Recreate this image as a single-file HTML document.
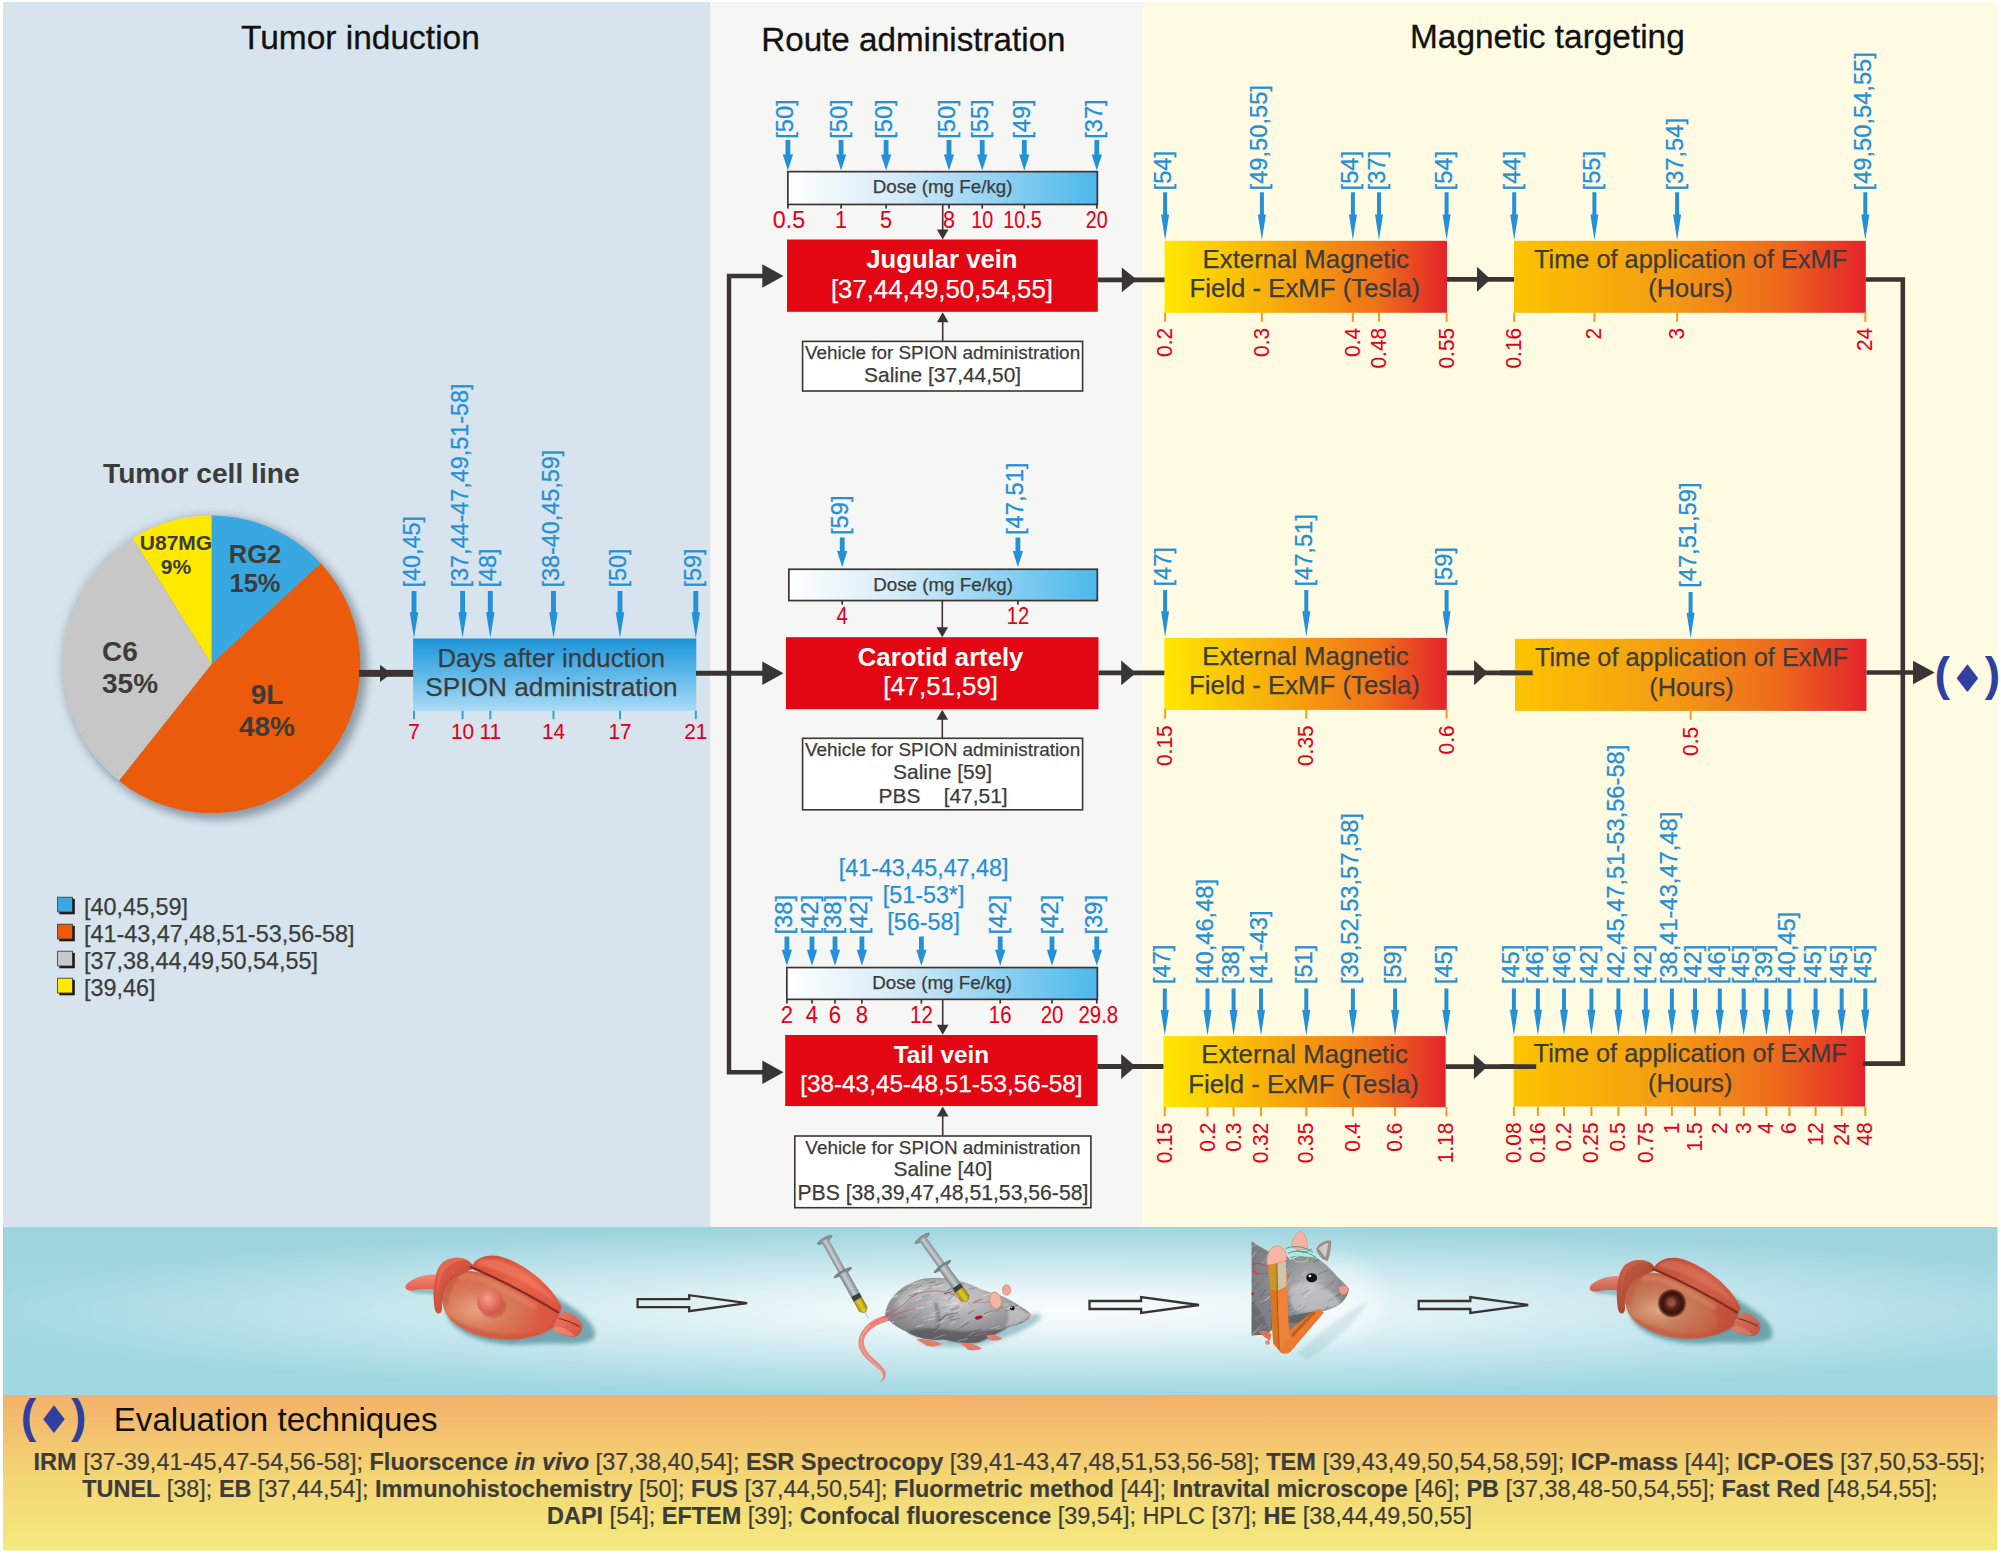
<!DOCTYPE html>
<html lang="en"><head><meta charset="utf-8"><title>SPION magnetic targeting overview</title>
<style>html,body{margin:0;padding:0;background:#fff;}body{width:2001px;height:1554px;overflow:hidden;}svg{display:block;font-family:"Liberation Sans",Arial,Helvetica,sans-serif;}</style>
</head><body>
<svg width="2001" height="1554" viewBox="0 0 2001 1554" role="img" aria-label="SPION magnetic targeting study overview">
<defs>
<linearGradient id="gDays" x1="0" y1="0" x2="0" y2="1"><stop offset="0" stop-color="#1f93d6"/><stop offset="0.25" stop-color="#3ba7e2"/><stop offset="1" stop-color="#a9daf6"/></linearGradient>
<linearGradient id="gDose" x1="0" y1="0" x2="1" y2="0"><stop offset="0" stop-color="#ffffff"/><stop offset="0.35" stop-color="#d6ebf8"/><stop offset="1" stop-color="#4bb8ec"/></linearGradient>
<linearGradient id="gEx" x1="0" y1="0" x2="1" y2="0"><stop offset="0" stop-color="#ffe800"/><stop offset="0.45" stop-color="#f6a30d"/><stop offset="0.75" stop-color="#ee7219"/><stop offset="1" stop-color="#e4232b"/></linearGradient>
<linearGradient id="gTime" x1="0" y1="0" x2="1" y2="0"><stop offset="0" stop-color="#fcc400"/><stop offset="0.45" stop-color="#f49a14"/><stop offset="0.75" stop-color="#ed6a1d"/><stop offset="1" stop-color="#e4232b"/></linearGradient>
<linearGradient id="gBandV" x1="0" y1="0" x2="0" y2="1"><stop offset="0" stop-color="#9dd4de"/><stop offset="0.5" stop-color="#a1d7e1"/><stop offset="1" stop-color="#9fd7e2"/></linearGradient>
<radialGradient id="gBandC" cx="0.5" cy="0.5" r="0.5"><stop offset="0" stop-color="#ffffff" stop-opacity="0.93"/><stop offset="0.25" stop-color="#ffffff" stop-opacity="0.76"/><stop offset="0.5" stop-color="#ffffff" stop-opacity="0.5"/><stop offset="0.75" stop-color="#ffffff" stop-opacity="0.24"/><stop offset="1" stop-color="#ffffff" stop-opacity="0"/></radialGradient>
<linearGradient id="gEval" x1="0" y1="0" x2="0" y2="1"><stop offset="0" stop-color="#f4b16a"/><stop offset="0.5" stop-color="#f3d474"/><stop offset="1" stop-color="#f3ea7e"/></linearGradient>
<clipPath id="bandclip"><rect x="3" y="1227" width="1994.5" height="168.5"/></clipPath>
<filter id="blur6" x="-20%" y="-20%" width="140%" height="140%"><feGaussianBlur stdDeviation="6"/></filter>
<filter id="blur45" x="-20%" y="-20%" width="140%" height="140%"><feGaussianBlur stdDeviation="4.5"/></filter>
<filter id="blur3" x="-20%" y="-20%" width="140%" height="140%"><feGaussianBlur stdDeviation="3"/></filter>
</defs>
<rect x="0" y="0" width="2001" height="1554" fill="#ffffff"/>
<rect x="3" y="2" width="707.5" height="1226" fill="#d7e4ed"/>
<rect x="710.5" y="2" width="433" height="1226" fill="#f6f6f4"/>
<rect x="1143.5" y="2" width="854" height="1226" fill="#fffae2"/>
<rect x="3" y="1227" width="1994.5" height="168.5" fill="url(#gBandV)"/>
<ellipse cx="1060" cy="1311" rx="1100" ry="86" fill="url(#gBandC)" clip-path="url(#bandclip)"/>
<rect x="3" y="1395" width="1994.5" height="155.5" fill="url(#gEval)"/>
<text x="360.4" y="49.4" font-size="33.5" fill="#111111" text-anchor="middle" stroke="#111" stroke-width="0.3">Tumor induction</text>
<text x="913.4" y="51.3" font-size="33.2" fill="#111111" text-anchor="middle" stroke="#111" stroke-width="0.3">Route administration</text>
<text x="1547.4" y="47.7" font-size="33.4" fill="#111111" text-anchor="middle" stroke="#111" stroke-width="0.3">Magnetic targeting</text>
<circle cx="212.5" cy="665.3" r="151.8" fill="#6a7a8a" opacity="0.35" filter="url(#blur45)"/>
<circle cx="218.0" cy="670.8" r="149.3" fill="#5a6a7a" opacity="0.45" filter="url(#blur45)"/>
<path d="M211.5,664.3L211.50,515.50A148.8,148.8 0 0 1 320.68,563.20Z" fill="#3aa8e0"/>
<path d="M211.5,664.3L320.68,563.20A148.8,148.8 0 0 1 118.87,780.75Z" fill="#ea5b0b"/>
<path d="M211.5,664.3L118.87,780.75A148.8,148.8 0 0 1 132.87,537.97Z" fill="#c7c7c7"/>
<path d="M211.5,664.3L132.87,537.97A148.8,148.8 0 0 1 211.50,515.50Z" fill="#ffe900"/>
<text x="201.3" y="482.5" font-size="28.15" fill="#3c3c3b" text-anchor="middle" font-weight="bold">Tumor cell line</text>
<text x="255.0" y="563.0" font-size="25.5" fill="#3c3c3b" text-anchor="middle" font-weight="bold">RG2</text>
<text x="255.0" y="591.5" font-size="25.5" fill="#3c3c3b" text-anchor="middle" font-weight="bold">15%</text>
<text x="267.0" y="703.8" font-size="28" fill="#3c3c3b" text-anchor="middle" font-weight="bold">9L</text>
<text x="267.0" y="736.0" font-size="28" fill="#3c3c3b" text-anchor="middle" font-weight="bold">48%</text>
<text x="102.0" y="660.5" font-size="28" fill="#3c3c3b" text-anchor="start" font-weight="bold">C6</text>
<text x="102.0" y="693.0" font-size="28" fill="#3c3c3b" text-anchor="start" font-weight="bold">35%</text>
<text x="176.0" y="550.0" font-size="21" fill="#3c3c3b" text-anchor="middle" font-weight="bold">U87MG</text>
<text x="176.0" y="574.0" font-size="21" fill="#3c3c3b" text-anchor="middle" font-weight="bold">9%</text>
<rect x="59.3" y="898.8" width="15.5" height="15.5" fill="#1a1a1a"/>
<rect x="57.6" y="897.2" width="14.8" height="14.8" fill="#3aa8e0" stroke="#333" stroke-width="0.8"/>
<text x="84.0" y="915.0" font-size="23.4" fill="#3c3c3b" stroke="#3c3c3b" stroke-width="0.25" text-anchor="start">[40,45,59]</text>
<rect x="59.3" y="925.8" width="15.5" height="15.5" fill="#1a1a1a"/>
<rect x="57.6" y="924.2" width="14.8" height="14.8" fill="#ea5b0b" stroke="#333" stroke-width="0.8"/>
<text x="84.0" y="942.0" font-size="23.4" fill="#3c3c3b" stroke="#3c3c3b" stroke-width="0.25" text-anchor="start">[41-43,47,48,51-53,56-58]</text>
<rect x="59.3" y="952.8" width="15.5" height="15.5" fill="#1a1a1a"/>
<rect x="57.6" y="951.2" width="14.8" height="14.8" fill="#c7c7c7" stroke="#333" stroke-width="0.8"/>
<text x="84.0" y="969.0" font-size="23.4" fill="#3c3c3b" stroke="#3c3c3b" stroke-width="0.25" text-anchor="start">[37,38,44,49,50,54,55]</text>
<rect x="59.3" y="979.8" width="15.5" height="15.5" fill="#1a1a1a"/>
<rect x="57.6" y="978.2" width="14.8" height="14.8" fill="#ffe900" stroke="#333" stroke-width="0.8"/>
<text x="84.0" y="996.0" font-size="23.4" fill="#3c3c3b" stroke="#3c3c3b" stroke-width="0.25" text-anchor="start">[39,46]</text>
<rect x="359" y="669.9" width="55" height="6.9" fill="#3a3533"/>
<path d="M380,664.8L391.5,673.4L380,682Z" fill="#3a3533"/>
<rect x="413.1" y="638.5" width="283.2" height="72.2" fill="url(#gDays)"/>
<text x="551.3" y="666.6" font-size="25.75" fill="#3c3c3b" stroke="#3c3c3b" stroke-width="0.25" text-anchor="middle">Days after induction</text>
<text x="551.5" y="695.8" font-size="26.25" fill="#3c3c3b" stroke="#3c3c3b" stroke-width="0.25" text-anchor="middle">SPION administration</text>
<path d="M411.55,591.00H416.45V612.20L418.25,612.20L414.00,638.00L409.75,612.20L411.55,612.20Z" fill="#2490d6"/>
<text transform="translate(419.5,587.6) rotate(-90) scale(1.017,1)" font-size="23.0" fill="#2490d6" stroke="#2490d6" stroke-width="0.3" text-anchor="start">[40,45]</text>
<rect x="413.0" y="710.7" width="2" height="8.5" fill="#2ea3dc"/>
<text transform="translate(414.0,739.0) scale(0.93,1)" font-size="22.4" fill="#e2001a" stroke="#e2001a" stroke-width="0.12" text-anchor="middle">7</text>
<path d="M460.15,591.00H465.05V612.20L466.85,612.20L462.60,638.00L458.35,612.20L460.15,612.20Z" fill="#2490d6"/>
<text transform="translate(468.1,587.6) rotate(-90) scale(1.017,1)" font-size="23.0" fill="#2490d6" stroke="#2490d6" stroke-width="0.3" text-anchor="start">[37,44-47,49,51-58]</text>
<rect x="461.6" y="710.7" width="2" height="8.5" fill="#2ea3dc"/>
<text transform="translate(462.6,739.0) scale(0.93,1)" font-size="22.4" fill="#e2001a" stroke="#e2001a" stroke-width="0.12" text-anchor="middle">10</text>
<path d="M487.85,591.00H492.75V612.20L494.55,612.20L490.30,638.00L486.05,612.20L487.85,612.20Z" fill="#2490d6"/>
<text transform="translate(495.8,587.6) rotate(-90) scale(1.017,1)" font-size="23.0" fill="#2490d6" stroke="#2490d6" stroke-width="0.3" text-anchor="start">[48]</text>
<rect x="489.3" y="710.7" width="2" height="8.5" fill="#2ea3dc"/>
<text transform="translate(490.3,739.0) scale(0.93,1)" font-size="22.4" fill="#e2001a" stroke="#e2001a" stroke-width="0.12" text-anchor="middle">11</text>
<path d="M551.05,591.00H555.95V612.20L557.75,612.20L553.50,638.00L549.25,612.20L551.05,612.20Z" fill="#2490d6"/>
<text transform="translate(559.0,587.6) rotate(-90) scale(1.017,1)" font-size="23.0" fill="#2490d6" stroke="#2490d6" stroke-width="0.3" text-anchor="start">[38-40,45,59]</text>
<rect x="552.5" y="710.7" width="2" height="8.5" fill="#2ea3dc"/>
<text transform="translate(553.5,739.0) scale(0.93,1)" font-size="22.4" fill="#e2001a" stroke="#e2001a" stroke-width="0.12" text-anchor="middle">14</text>
<path d="M617.55,591.00H622.45V612.20L624.25,612.20L620.00,638.00L615.75,612.20L617.55,612.20Z" fill="#2490d6"/>
<text transform="translate(625.5,587.6) rotate(-90) scale(1.017,1)" font-size="23.0" fill="#2490d6" stroke="#2490d6" stroke-width="0.3" text-anchor="start">[50]</text>
<rect x="619.0" y="710.7" width="2" height="8.5" fill="#2ea3dc"/>
<text transform="translate(620.0,739.0) scale(0.93,1)" font-size="22.4" fill="#e2001a" stroke="#e2001a" stroke-width="0.12" text-anchor="middle">17</text>
<path d="M693.35,591.00H698.25V612.20L700.05,612.20L695.80,638.00L691.55,612.20L693.35,612.20Z" fill="#2490d6"/>
<text transform="translate(701.3,587.6) rotate(-90) scale(1.017,1)" font-size="23.0" fill="#2490d6" stroke="#2490d6" stroke-width="0.3" text-anchor="start">[59]</text>
<rect x="694.8" y="710.7" width="2" height="8.5" fill="#2ea3dc"/>
<text transform="translate(695.8,739.0) scale(0.93,1)" font-size="22.4" fill="#e2001a" stroke="#e2001a" stroke-width="0.12" text-anchor="middle">21</text>
<path d="M696,673.3H765" stroke="#3a3533" stroke-width="5" fill="none"/>
<path d="M765,276H729V1072.3H765" stroke="#3a3533" stroke-width="4.4" fill="none"/>
<path d="M762.3,264.2L783.5,276L762.3,287.8Z" fill="#3a3533"/>
<path d="M762.3,661.5L783.5,673.3L762.3,685.0999999999999Z" fill="#3a3533"/>
<path d="M762.3,1060.5L783.5,1072.3L762.3,1084.1Z" fill="#3a3533"/>
<rect x="787.85" y="171.65" width="309.50" height="32.80" fill="url(#gDose)" stroke="#3a3533" stroke-width="1.7"/>
<text x="942.6" y="193.3" font-size="18.8" fill="#3c3c3b" stroke="#3c3c3b" stroke-width="0.25" text-anchor="middle">Dose (mg Fe/kg)</text>
<path d="M785.50,140.00H790.30V154.50L793.05,154.50L787.90,170.50L782.75,154.50L785.50,154.50Z" fill="#2490d6"/>
<text transform="translate(793.4,138.8) rotate(-90) scale(1.03,1)" font-size="23.0" fill="#2490d6" stroke="#2490d6" stroke-width="0.3" text-anchor="start">[50]</text>
<rect x="787.05" y="205" width="1.7" height="3.6" fill="#3a3533"/>
<text transform="translate(788.9,227.5) scale(0.97,1)" font-size="24" fill="#e2001a" stroke="#e2001a" stroke-width="0.12" text-anchor="middle">0.5</text>
<path d="M838.70,140.00H843.50V154.50L846.25,154.50L841.10,170.50L835.95,154.50L838.70,154.50Z" fill="#2490d6"/>
<text transform="translate(846.6,138.8) rotate(-90) scale(1.03,1)" font-size="23.0" fill="#2490d6" stroke="#2490d6" stroke-width="0.3" text-anchor="start">[50]</text>
<rect x="840.25" y="205" width="1.7" height="3.6" fill="#3a3533"/>
<text transform="translate(841.1,227.5) scale(0.9,1)" font-size="24" fill="#e2001a" stroke="#e2001a" stroke-width="0.12" text-anchor="middle">1</text>
<path d="M883.70,140.00H888.50V154.50L891.25,154.50L886.10,170.50L880.95,154.50L883.70,154.50Z" fill="#2490d6"/>
<text transform="translate(891.6,138.8) rotate(-90) scale(1.03,1)" font-size="23.0" fill="#2490d6" stroke="#2490d6" stroke-width="0.3" text-anchor="start">[50]</text>
<rect x="885.25" y="205" width="1.7" height="3.6" fill="#3a3533"/>
<text transform="translate(886.1,227.5) scale(0.9,1)" font-size="24" fill="#e2001a" stroke="#e2001a" stroke-width="0.12" text-anchor="middle">5</text>
<path d="M946.60,140.00H951.40V154.50L954.15,154.50L949.00,170.50L943.85,154.50L946.60,154.50Z" fill="#2490d6"/>
<text transform="translate(954.5,138.8) rotate(-90) scale(1.03,1)" font-size="23.0" fill="#2490d6" stroke="#2490d6" stroke-width="0.3" text-anchor="start">[50]</text>
<rect x="948.15" y="205" width="1.7" height="3.6" fill="#3a3533"/>
<text transform="translate(949.0,227.5) scale(0.9,1)" font-size="24" fill="#e2001a" stroke="#e2001a" stroke-width="0.12" text-anchor="middle">8</text>
<path d="M979.80,140.00H984.60V154.50L987.35,154.50L982.20,170.50L977.05,154.50L979.80,154.50Z" fill="#2490d6"/>
<text transform="translate(987.7,138.8) rotate(-90) scale(1.03,1)" font-size="23.0" fill="#2490d6" stroke="#2490d6" stroke-width="0.3" text-anchor="start">[55]</text>
<rect x="981.35" y="205" width="1.7" height="3.6" fill="#3a3533"/>
<text transform="translate(982.2,227.5) scale(0.82,1)" font-size="24" fill="#e2001a" stroke="#e2001a" stroke-width="0.12" text-anchor="middle">10</text>
<path d="M1021.90,140.00H1026.70V154.50L1029.45,154.50L1024.30,170.50L1019.15,154.50L1021.90,154.50Z" fill="#2490d6"/>
<text transform="translate(1029.8,138.8) rotate(-90) scale(1.03,1)" font-size="23.0" fill="#2490d6" stroke="#2490d6" stroke-width="0.3" text-anchor="start">[49]</text>
<rect x="1023.45" y="205" width="1.7" height="3.6" fill="#3a3533"/>
<text transform="translate(1022.5,227.5) scale(0.82,1)" font-size="24" fill="#e2001a" stroke="#e2001a" stroke-width="0.12" text-anchor="middle">10.5</text>
<path d="M1094.40,140.00H1099.20V154.50L1101.95,154.50L1096.80,170.50L1091.65,154.50L1094.40,154.50Z" fill="#2490d6"/>
<text transform="translate(1102.3,138.8) rotate(-90) scale(1.03,1)" font-size="23.0" fill="#2490d6" stroke="#2490d6" stroke-width="0.3" text-anchor="start">[37]</text>
<rect x="1095.95" y="205" width="1.7" height="3.6" fill="#3a3533"/>
<text transform="translate(1096.8,227.5) scale(0.82,1)" font-size="24" fill="#e2001a" stroke="#e2001a" stroke-width="0.12" text-anchor="middle">20</text>
<path d="M942.7,205V231.6" stroke="#3a3533" stroke-width="1.6" fill="none"/>
<path d="M936.9000000000001,229.6L942.7,239.6L948.5,229.6Z" fill="#3a3533"/>
<rect x="787" y="239.5" width="310.8" height="72.3" fill="#e30613"/>
<text x="941.9" y="268.4" font-size="25.7" fill="#ffffff" text-anchor="middle" font-weight="bold">Jugular vein</text>
<text x="941.9" y="297.5" font-size="25.75" fill="#ffffff" stroke="#ffffff" stroke-width="0.25" text-anchor="middle">[37,44,49,50,54,55]</text>
<path d="M942.7,341V320.3" stroke="#3a3533" stroke-width="1.6" fill="none"/>
<path d="M936.9000000000001,322.3L942.7,312.3L948.5,322.3Z" fill="#3a3533"/>
<rect x="802.5999999999999" y="341.40000000000003" width="280.0" height="49.6" fill="#ffffff" stroke="#3a3533" stroke-width="1.6"/>
<text x="942.6" y="358.9" font-size="18.9" fill="#3c3c3b" stroke="#3c3c3b" stroke-width="0.25" text-anchor="middle" xml:space="preserve">Vehicle for SPION administration</text>
<text x="942.6" y="382.0" font-size="20.95" fill="#3c3c3b" stroke="#3c3c3b" stroke-width="0.25" text-anchor="middle" xml:space="preserve">Saline [37,44,50]</text>
<rect x="788.85" y="569.25" width="308.50" height="31.30" fill="url(#gDose)" stroke="#3a3533" stroke-width="1.7"/>
<text x="943.1" y="590.9" font-size="18.8" fill="#3c3c3b" stroke="#3c3c3b" stroke-width="0.25" text-anchor="middle">Dose (mg Fe/kg)</text>
<path d="M839.80,537.50H844.60V551.00L847.35,551.00L842.20,567.00L837.05,551.00L839.80,551.00Z" fill="#2490d6"/>
<text transform="translate(847.7,535.0) rotate(-90) scale(1.03,1)" font-size="23.0" fill="#2490d6" stroke="#2490d6" stroke-width="0.3" text-anchor="start">[59]</text>
<rect x="841.35" y="601" width="1.7" height="3.6" fill="#3a3533"/>
<text transform="translate(842.2,623.6) scale(0.84,1)" font-size="24" fill="#e2001a" stroke="#e2001a" stroke-width="0.12" text-anchor="middle">4</text>
<path d="M1015.50,537.50H1020.30V551.00L1023.05,551.00L1017.90,567.00L1012.75,551.00L1015.50,551.00Z" fill="#2490d6"/>
<text transform="translate(1023.4,535.0) rotate(-90) scale(1.03,1)" font-size="23.0" fill="#2490d6" stroke="#2490d6" stroke-width="0.3" text-anchor="start">[47,51]</text>
<rect x="1017.05" y="601" width="1.7" height="3.6" fill="#3a3533"/>
<text transform="translate(1017.9,623.6) scale(0.84,1)" font-size="24" fill="#e2001a" stroke="#e2001a" stroke-width="0.12" text-anchor="middle">12</text>
<path d="M942.3,601V629.2" stroke="#3a3533" stroke-width="1.6" fill="none"/>
<path d="M936.5,627.2L942.3,637.2L948.0999999999999,627.2Z" fill="#3a3533"/>
<rect x="786" y="637.2" width="312.5" height="72.0" fill="#e30613"/>
<text x="940.6" y="665.9" font-size="25.7" fill="#ffffff" text-anchor="middle" font-weight="bold">Carotid artely</text>
<text x="940.6" y="695.3" font-size="25.75" fill="#ffffff" stroke="#ffffff" stroke-width="0.25" text-anchor="middle">[47,51,59]</text>
<path d="M942.3,738V717.8" stroke="#3a3533" stroke-width="1.6" fill="none"/>
<path d="M936.5,719.8L942.3,709.8L948.0999999999999,719.8Z" fill="#3a3533"/>
<rect x="802.5999999999999" y="738.3" width="280.0" height="71.5" fill="#ffffff" stroke="#3a3533" stroke-width="1.6"/>
<text x="942.6" y="756.2" font-size="18.9" fill="#3c3c3b" stroke="#3c3c3b" stroke-width="0.25" text-anchor="middle" xml:space="preserve">Vehicle for SPION administration</text>
<text x="942.6" y="779.2" font-size="20.95" fill="#3c3c3b" stroke="#3c3c3b" stroke-width="0.25" text-anchor="middle" xml:space="preserve">Saline [59]</text>
<text x="943.1" y="802.6" font-size="20.95" fill="#3c3c3b" stroke="#3c3c3b" stroke-width="0.25" text-anchor="middle" xml:space="preserve">PBS    [47,51]</text>
<rect x="786.85" y="967.55" width="310.50" height="31.80" fill="url(#gDose)" stroke="#3a3533" stroke-width="1.7"/>
<text x="942.1" y="989.2" font-size="18.8" fill="#3c3c3b" stroke="#3c3c3b" stroke-width="0.25" text-anchor="middle">Dose (mg Fe/kg)</text>
<path d="M784.50,936.50H789.30V949.80L792.05,949.80L786.90,965.80L781.75,949.80L784.50,949.80Z" fill="#2490d6"/>
<text transform="translate(792.4,934.5) rotate(-90) scale(1.03,1)" font-size="23.0" fill="#2490d6" stroke="#2490d6" stroke-width="0.3" text-anchor="start">[38]</text>
<rect x="786.05" y="1000" width="1.7" height="3.6" fill="#3a3533"/>
<text transform="translate(786.9,1022.9) scale(0.92,1)" font-size="24" fill="#e2001a" stroke="#e2001a" stroke-width="0.12" text-anchor="middle">2</text>
<path d="M809.60,936.50H814.40V949.80L817.15,949.80L812.00,965.80L806.85,949.80L809.60,949.80Z" fill="#2490d6"/>
<text transform="translate(817.5,934.5) rotate(-90) scale(1.03,1)" font-size="23.0" fill="#2490d6" stroke="#2490d6" stroke-width="0.3" text-anchor="start">[42]</text>
<rect x="811.15" y="1000" width="1.7" height="3.6" fill="#3a3533"/>
<text transform="translate(812.0,1022.9) scale(0.92,1)" font-size="24" fill="#e2001a" stroke="#e2001a" stroke-width="0.12" text-anchor="middle">4</text>
<path d="M832.60,936.50H837.40V949.80L840.15,949.80L835.00,965.80L829.85,949.80L832.60,949.80Z" fill="#2490d6"/>
<text transform="translate(840.5,934.5) rotate(-90) scale(1.03,1)" font-size="23.0" fill="#2490d6" stroke="#2490d6" stroke-width="0.3" text-anchor="start">[38]</text>
<rect x="834.15" y="1000" width="1.7" height="3.6" fill="#3a3533"/>
<text transform="translate(835.0,1022.9) scale(0.92,1)" font-size="24" fill="#e2001a" stroke="#e2001a" stroke-width="0.12" text-anchor="middle">6</text>
<path d="M859.50,936.50H864.30V949.80L867.05,949.80L861.90,965.80L856.75,949.80L859.50,949.80Z" fill="#2490d6"/>
<text transform="translate(867.4,934.5) rotate(-90) scale(1.03,1)" font-size="23.0" fill="#2490d6" stroke="#2490d6" stroke-width="0.3" text-anchor="start">[42]</text>
<rect x="861.05" y="1000" width="1.7" height="3.6" fill="#3a3533"/>
<text transform="translate(861.9,1022.9) scale(0.92,1)" font-size="24" fill="#e2001a" stroke="#e2001a" stroke-width="0.12" text-anchor="middle">8</text>
<path d="M919.00,936.50H923.80V949.80L926.55,949.80L921.40,965.80L916.25,949.80L919.00,949.80Z" fill="#2490d6"/>
<rect x="920.55" y="1000" width="1.7" height="3.6" fill="#3a3533"/>
<text transform="translate(921.4,1022.9) scale(0.85,1)" font-size="24" fill="#e2001a" stroke="#e2001a" stroke-width="0.12" text-anchor="middle">12</text>
<path d="M997.80,936.50H1002.60V949.80L1005.35,949.80L1000.20,965.80L995.05,949.80L997.80,949.80Z" fill="#2490d6"/>
<text transform="translate(1005.7,934.5) rotate(-90) scale(1.03,1)" font-size="23.0" fill="#2490d6" stroke="#2490d6" stroke-width="0.3" text-anchor="start">[42]</text>
<rect x="999.35" y="1000" width="1.7" height="3.6" fill="#3a3533"/>
<text transform="translate(1000.2,1022.9) scale(0.85,1)" font-size="24" fill="#e2001a" stroke="#e2001a" stroke-width="0.12" text-anchor="middle">16</text>
<path d="M1049.60,936.50H1054.40V949.80L1057.15,949.80L1052.00,965.80L1046.85,949.80L1049.60,949.80Z" fill="#2490d6"/>
<text transform="translate(1057.5,934.5) rotate(-90) scale(1.03,1)" font-size="23.0" fill="#2490d6" stroke="#2490d6" stroke-width="0.3" text-anchor="start">[42]</text>
<rect x="1051.15" y="1000" width="1.7" height="3.6" fill="#3a3533"/>
<text transform="translate(1052.0,1022.9) scale(0.85,1)" font-size="24" fill="#e2001a" stroke="#e2001a" stroke-width="0.12" text-anchor="middle">20</text>
<path d="M1094.40,936.50H1099.20V949.80L1101.95,949.80L1096.80,965.80L1091.65,949.80L1094.40,949.80Z" fill="#2490d6"/>
<text transform="translate(1102.3,934.5) rotate(-90) scale(1.03,1)" font-size="23.0" fill="#2490d6" stroke="#2490d6" stroke-width="0.3" text-anchor="start">[39]</text>
<rect x="1095.95" y="1000" width="1.7" height="3.6" fill="#3a3533"/>
<text transform="translate(1098.3,1022.9) scale(0.85,1)" font-size="24" fill="#e2001a" stroke="#e2001a" stroke-width="0.12" text-anchor="middle">29.8</text>
<text x="923.6" y="876.4" font-size="23.3" fill="#2490d6" stroke="#2490d6" stroke-width="0.25" text-anchor="middle">[41-43,45,47,48]</text>
<text x="923.6" y="902.7" font-size="23.3" fill="#2490d6" stroke="#2490d6" stroke-width="0.25" text-anchor="middle">[51-53*]</text>
<text x="923.6" y="929.5" font-size="23.3" fill="#2490d6" stroke="#2490d6" stroke-width="0.25" text-anchor="middle">[56-58]</text>
<path d="M942.7,1000V1026.8" stroke="#3a3533" stroke-width="1.6" fill="none"/>
<path d="M936.9000000000001,1024.8L942.7,1034.8L948.5,1024.8Z" fill="#3a3533"/>
<rect x="785.2" y="1035" width="312.4" height="71.0" fill="#e30613"/>
<text x="941.4" y="1063.2" font-size="24.3" fill="#ffffff" text-anchor="middle" font-weight="bold">Tail vein</text>
<text x="941.4" y="1092.2" font-size="24.3" fill="#ffffff" stroke="#ffffff" stroke-width="0.25" text-anchor="middle">[38-43,45-48,51-53,56-58]</text>
<path d="M942.7,1135.7V1114.6" stroke="#3a3533" stroke-width="1.6" fill="none"/>
<path d="M936.9000000000001,1116.6L942.7,1106.6L948.5,1116.6Z" fill="#3a3533"/>
<rect x="794.8" y="1136.0" width="296.1" height="71.7" fill="#ffffff" stroke="#3a3533" stroke-width="1.6"/>
<text x="942.9" y="1154.0" font-size="18.9" fill="#3c3c3b" stroke="#3c3c3b" stroke-width="0.25" text-anchor="middle" xml:space="preserve">Vehicle for SPION administration</text>
<text x="942.9" y="1176.0" font-size="20.95" fill="#3c3c3b" stroke="#3c3c3b" stroke-width="0.25" text-anchor="middle" xml:space="preserve">Saline [40]</text>
<text x="942.9" y="1199.8" font-size="21.2" fill="#3c3c3b" stroke="#3c3c3b" stroke-width="0.25" text-anchor="middle" xml:space="preserve">PBS [38,39,47,48,51,53,56-58]</text>
<path d="M1097.6,279.8H1165" stroke="#3a3533" stroke-width="4.8" fill="none"/>
<path d="M1121.8,267.40000000000003L1137,279.8L1121.8,292.2Z" fill="#3a3533"/>
<rect x="1164.5" y="240.8" width="282.5" height="72.0" fill="url(#gEx)"/>
<text x="1305.8" y="267.7" font-size="25.8" fill="#3c3c3b" stroke="#3c3c3b" stroke-width="0.25" text-anchor="middle">External Magnetic</text>
<text x="1304.8" y="297.3" font-size="25.8" fill="#3c3c3b" stroke="#3c3c3b" stroke-width="0.25" text-anchor="middle">Field - ExMF (Tesla)</text>
<path d="M1447,279.3H1515" stroke="#3a3533" stroke-width="4.8" fill="none"/>
<path d="M1477,266.8L1490.6,279.3L1477,291.8Z" fill="#3a3533"/>
<rect x="1514" y="240.8" width="351.8" height="72.0" fill="url(#gTime)"/>
<text x="1690.6" y="267.7" font-size="25.35" fill="#3c3c3b" stroke="#3c3c3b" stroke-width="0.25" text-anchor="middle">Time of application of ExMF</text>
<text x="1690.6" y="297.3" font-size="25.35" fill="#3c3c3b" stroke="#3c3c3b" stroke-width="0.25" text-anchor="middle">(Hours)</text>
<path d="M1163.10,192.20H1167.10V214.40L1169.10,214.40L1165.10,239.90L1161.10,214.40L1163.10,214.40Z" fill="#2490d6"/>
<text transform="translate(1170.6,190.4) rotate(-90) scale(1.03,1)" font-size="23.0" fill="#2490d6" stroke="#2490d6" stroke-width="0.3" text-anchor="start">[54]</text>
<rect x="1164.1" y="312.6" width="2" height="9.3" fill="#f59c1a"/>
<text transform="translate(1172.1,327.8) rotate(-90) scale(0.93,1)" font-size="22.5" fill="#e2001a" stroke="#e2001a" stroke-width="0.1" text-anchor="end">0.2</text>
<path d="M1259.90,192.20H1263.90V214.40L1265.90,214.40L1261.90,239.90L1257.90,214.40L1259.90,214.40Z" fill="#2490d6"/>
<text transform="translate(1267.4,190.4) rotate(-90) scale(1.03,1)" font-size="23.0" fill="#2490d6" stroke="#2490d6" stroke-width="0.3" text-anchor="start">[49,50,55]</text>
<rect x="1260.9" y="312.6" width="2" height="9.3" fill="#f59c1a"/>
<text transform="translate(1268.9,327.8) rotate(-90) scale(0.93,1)" font-size="22.5" fill="#e2001a" stroke="#e2001a" stroke-width="0.1" text-anchor="end">0.3</text>
<path d="M1350.90,192.20H1354.90V214.40L1356.90,214.40L1352.90,239.90L1348.90,214.40L1350.90,214.40Z" fill="#2490d6"/>
<text transform="translate(1358.4,190.4) rotate(-90) scale(1.03,1)" font-size="23.0" fill="#2490d6" stroke="#2490d6" stroke-width="0.3" text-anchor="start">[54]</text>
<rect x="1351.9" y="312.6" width="2" height="9.3" fill="#f59c1a"/>
<text transform="translate(1359.9,327.8) rotate(-90) scale(0.93,1)" font-size="22.5" fill="#e2001a" stroke="#e2001a" stroke-width="0.1" text-anchor="end">0.4</text>
<path d="M1377.00,192.20H1381.00V214.40L1383.00,214.40L1379.00,239.90L1375.00,214.40L1377.00,214.40Z" fill="#2490d6"/>
<text transform="translate(1384.5,190.4) rotate(-90) scale(1.03,1)" font-size="23.0" fill="#2490d6" stroke="#2490d6" stroke-width="0.3" text-anchor="start">[37]</text>
<rect x="1378.0" y="312.6" width="2" height="9.3" fill="#f59c1a"/>
<text transform="translate(1386.0,327.8) rotate(-90) scale(0.93,1)" font-size="22.5" fill="#e2001a" stroke="#e2001a" stroke-width="0.1" text-anchor="end">0.48</text>
<path d="M1444.60,192.20H1448.60V214.40L1450.60,214.40L1446.60,239.90L1442.60,214.40L1444.60,214.40Z" fill="#2490d6"/>
<text transform="translate(1452.1,190.4) rotate(-90) scale(1.03,1)" font-size="23.0" fill="#2490d6" stroke="#2490d6" stroke-width="0.3" text-anchor="start">[54]</text>
<rect x="1445.6" y="312.6" width="2" height="9.3" fill="#f59c1a"/>
<text transform="translate(1453.6,327.8) rotate(-90) scale(0.93,1)" font-size="22.5" fill="#e2001a" stroke="#e2001a" stroke-width="0.1" text-anchor="end">0.55</text>
<path d="M1512.20,192.20H1516.20V214.40L1518.20,214.40L1514.20,239.90L1510.20,214.40L1512.20,214.40Z" fill="#2490d6"/>
<text transform="translate(1519.7,190.4) rotate(-90) scale(1.03,1)" font-size="23.0" fill="#2490d6" stroke="#2490d6" stroke-width="0.3" text-anchor="start">[44]</text>
<rect x="1513.2" y="312.6" width="2" height="9.3" fill="#f59c1a"/>
<text transform="translate(1521.2,327.8) rotate(-90) scale(0.93,1)" font-size="22.5" fill="#e2001a" stroke="#e2001a" stroke-width="0.1" text-anchor="end">0.16</text>
<path d="M1592.40,192.20H1596.40V214.40L1598.40,214.40L1594.40,239.90L1590.40,214.40L1592.40,214.40Z" fill="#2490d6"/>
<text transform="translate(1599.9,190.4) rotate(-90) scale(1.03,1)" font-size="23.0" fill="#2490d6" stroke="#2490d6" stroke-width="0.3" text-anchor="start">[55]</text>
<rect x="1593.4" y="312.6" width="2" height="9.3" fill="#f59c1a"/>
<text transform="translate(1601.4,327.8) rotate(-90) scale(0.93,1)" font-size="22.5" fill="#e2001a" stroke="#e2001a" stroke-width="0.1" text-anchor="end">2</text>
<path d="M1675.10,192.20H1679.10V214.40L1681.10,214.40L1677.10,239.90L1673.10,214.40L1675.10,214.40Z" fill="#2490d6"/>
<text transform="translate(1682.6,190.4) rotate(-90) scale(1.03,1)" font-size="23.0" fill="#2490d6" stroke="#2490d6" stroke-width="0.3" text-anchor="start">[37,54]</text>
<rect x="1676.1" y="312.6" width="2" height="9.3" fill="#f59c1a"/>
<text transform="translate(1684.1,327.8) rotate(-90) scale(0.93,1)" font-size="22.5" fill="#e2001a" stroke="#e2001a" stroke-width="0.1" text-anchor="end">3</text>
<path d="M1863.30,192.20H1867.30V214.40L1869.30,214.40L1865.30,239.90L1861.30,214.40L1863.30,214.40Z" fill="#2490d6"/>
<text transform="translate(1870.8,190.4) rotate(-90) scale(1.03,1)" font-size="23.0" fill="#2490d6" stroke="#2490d6" stroke-width="0.3" text-anchor="start">[49,50,54,55]</text>
<rect x="1864.3" y="312.6" width="2" height="9.3" fill="#f59c1a"/>
<text transform="translate(1872.3,327.8) rotate(-90) scale(0.93,1)" font-size="22.5" fill="#e2001a" stroke="#e2001a" stroke-width="0.1" text-anchor="end">24</text>
<path d="M1098.5,672.9H1165" stroke="#3a3533" stroke-width="4.8" fill="none"/>
<path d="M1121.2,660.5L1136,672.9L1121.2,685.3Z" fill="#3a3533"/>
<rect x="1164.3" y="637.9" width="282.5" height="72.0" fill="url(#gEx)"/>
<text x="1305.5" y="664.8" font-size="25.8" fill="#3c3c3b" stroke="#3c3c3b" stroke-width="0.25" text-anchor="middle">External Magnetic</text>
<text x="1304.5" y="694.0" font-size="25.8" fill="#3c3c3b" stroke="#3c3c3b" stroke-width="0.25" text-anchor="middle">Field - ExMF (Tesla)</text>
<path d="M1446.8,672.8H1532.7" stroke="#3a3533" stroke-width="4.8" fill="none"/>
<path d="M1474.1,660.3L1487.8,672.8L1474.1,685.3Z" fill="#3a3533"/>
<rect x="1515" y="638.8" width="351.5" height="72.1" fill="url(#gTime)"/>
<text x="1691.5" y="666.3" font-size="25.35" fill="#3c3c3b" stroke="#3c3c3b" stroke-width="0.25" text-anchor="middle">Time of application of ExMF</text>
<text x="1691.5" y="695.5" font-size="25.35" fill="#3c3c3b" stroke="#3c3c3b" stroke-width="0.25" text-anchor="middle">(Hours)</text>
<path d="M1500,672.8H1532.7" stroke="#3a3533" stroke-width="4.8" fill="none"/>
<path d="M1163.10,590.00H1167.10V611.30L1169.10,611.30L1165.10,636.80L1161.10,611.30L1163.10,611.30Z" fill="#2490d6"/>
<text transform="translate(1170.6,586.6) rotate(-90) scale(1.03,1)" font-size="23.0" fill="#2490d6" stroke="#2490d6" stroke-width="0.3" text-anchor="start">[47]</text>
<rect x="1164.1" y="709.3" width="2" height="9.3" fill="#f59c1a"/>
<text transform="translate(1172.1,725.3) rotate(-90) scale(0.93,1)" font-size="22.5" fill="#e2001a" stroke="#e2001a" stroke-width="0.1" text-anchor="end">0.15</text>
<path d="M1304.30,590.00H1308.30V611.30L1310.30,611.30L1306.30,636.80L1302.30,611.30L1304.30,611.30Z" fill="#2490d6"/>
<text transform="translate(1311.8,586.6) rotate(-90) scale(1.03,1)" font-size="23.0" fill="#2490d6" stroke="#2490d6" stroke-width="0.3" text-anchor="start">[47,51]</text>
<rect x="1305.3" y="709.3" width="2" height="9.3" fill="#f59c1a"/>
<text transform="translate(1313.3,725.3) rotate(-90) scale(0.93,1)" font-size="22.5" fill="#e2001a" stroke="#e2001a" stroke-width="0.1" text-anchor="end">0.35</text>
<path d="M1444.60,590.00H1448.60V611.30L1450.60,611.30L1446.60,636.80L1442.60,611.30L1444.60,611.30Z" fill="#2490d6"/>
<text transform="translate(1452.1,586.6) rotate(-90) scale(1.03,1)" font-size="23.0" fill="#2490d6" stroke="#2490d6" stroke-width="0.3" text-anchor="start">[59]</text>
<rect x="1445.6" y="709.3" width="2" height="9.3" fill="#f59c1a"/>
<text transform="translate(1453.6,725.3) rotate(-90) scale(0.93,1)" font-size="22.5" fill="#e2001a" stroke="#e2001a" stroke-width="0.1" text-anchor="end">0.6</text>
<path d="M1688.60,592.00H1692.60V612.80L1694.60,612.80L1690.60,638.30L1686.60,612.80L1688.60,612.80Z" fill="#2490d6"/>
<text transform="translate(1696.1,587.8) rotate(-90) scale(1.03,1)" font-size="23.0" fill="#2490d6" stroke="#2490d6" stroke-width="0.3" text-anchor="start">[47,51,59]</text>
<rect x="1689.6" y="710.6" width="2" height="9.3" fill="#f59c1a"/>
<text transform="translate(1697.6,726.8) rotate(-90) scale(0.93,1)" font-size="22.5" fill="#e2001a" stroke="#e2001a" stroke-width="0.1" text-anchor="end">0.5</text>
<path d="M1097.4,1066.5H1165" stroke="#3a3533" stroke-width="4.8" fill="none"/>
<path d="M1121.2,1054.1L1135.5,1066.5L1121.2,1078.9Z" fill="#3a3533"/>
<rect x="1163.4" y="1036.1" width="282.3" height="71.1" fill="url(#gEx)"/>
<text x="1304.6" y="1063.0" font-size="25.8" fill="#3c3c3b" stroke="#3c3c3b" stroke-width="0.25" text-anchor="middle">External Magnetic</text>
<text x="1303.6" y="1092.5" font-size="25.8" fill="#3c3c3b" stroke="#3c3c3b" stroke-width="0.25" text-anchor="middle">Field - ExMF (Tesla)</text>
<path d="M1445.7,1066.6H1536.2" stroke="#3a3533" stroke-width="4.8" fill="none"/>
<path d="M1473.9,1054.1999999999998L1487.5,1066.6L1473.9,1079.0Z" fill="#3a3533"/>
<rect x="1513.7" y="1036" width="351.5" height="70.5" fill="url(#gTime)"/>
<text x="1690.2" y="1062.3" font-size="25.35" fill="#3c3c3b" stroke="#3c3c3b" stroke-width="0.25" text-anchor="middle">Time of application of ExMF</text>
<text x="1690.2" y="1091.8" font-size="25.35" fill="#3c3c3b" stroke="#3c3c3b" stroke-width="0.25" text-anchor="middle">(Hours)</text>
<path d="M1500,1066.6H1536.2" stroke="#3a3533" stroke-width="4.8" fill="none"/>
<path d="M1162.80,988.50H1166.80V1010.00L1168.80,1010.00L1164.80,1035.50L1160.80,1010.00L1162.80,1010.00Z" fill="#2490d6"/>
<text transform="translate(1170.3,984.2) rotate(-90) scale(1.03,1)" font-size="23.0" fill="#2490d6" stroke="#2490d6" stroke-width="0.3" text-anchor="start">[47]</text>
<rect x="1163.8" y="1107" width="2" height="9.3" fill="#f59c1a"/>
<text transform="translate(1171.8,1122.6) rotate(-90) scale(0.93,1)" font-size="22.5" fill="#e2001a" stroke="#e2001a" stroke-width="0.1" text-anchor="end">0.15</text>
<path d="M1205.50,988.50H1209.50V1010.00L1211.50,1010.00L1207.50,1035.50L1203.50,1010.00L1205.50,1010.00Z" fill="#2490d6"/>
<text transform="translate(1213.0,984.2) rotate(-90) scale(1.03,1)" font-size="23.0" fill="#2490d6" stroke="#2490d6" stroke-width="0.3" text-anchor="start">[40,46,48]</text>
<rect x="1206.5" y="1107" width="2" height="9.3" fill="#f59c1a"/>
<text transform="translate(1214.5,1122.6) rotate(-90) scale(0.93,1)" font-size="22.5" fill="#e2001a" stroke="#e2001a" stroke-width="0.1" text-anchor="end">0.2</text>
<path d="M1231.60,988.50H1235.60V1010.00L1237.60,1010.00L1233.60,1035.50L1229.60,1010.00L1231.60,1010.00Z" fill="#2490d6"/>
<text transform="translate(1239.1,984.2) rotate(-90) scale(1.03,1)" font-size="23.0" fill="#2490d6" stroke="#2490d6" stroke-width="0.3" text-anchor="start">[38]</text>
<rect x="1232.6" y="1107" width="2" height="9.3" fill="#f59c1a"/>
<text transform="translate(1240.6,1122.6) rotate(-90) scale(0.93,1)" font-size="22.5" fill="#e2001a" stroke="#e2001a" stroke-width="0.1" text-anchor="end">0.3</text>
<path d="M1259.00,988.50H1263.00V1010.00L1265.00,1010.00L1261.00,1035.50L1257.00,1010.00L1259.00,1010.00Z" fill="#2490d6"/>
<text transform="translate(1266.5,984.2) rotate(-90) scale(1.03,1)" font-size="23.0" fill="#2490d6" stroke="#2490d6" stroke-width="0.3" text-anchor="start">[41-43]</text>
<rect x="1260.0" y="1107" width="2" height="9.3" fill="#f59c1a"/>
<text transform="translate(1268.0,1122.6) rotate(-90) scale(0.93,1)" font-size="22.5" fill="#e2001a" stroke="#e2001a" stroke-width="0.1" text-anchor="end">0.32</text>
<path d="M1304.30,988.50H1308.30V1010.00L1310.30,1010.00L1306.30,1035.50L1302.30,1010.00L1304.30,1010.00Z" fill="#2490d6"/>
<text transform="translate(1311.8,984.2) rotate(-90) scale(1.03,1)" font-size="23.0" fill="#2490d6" stroke="#2490d6" stroke-width="0.3" text-anchor="start">[51]</text>
<rect x="1305.3" y="1107" width="2" height="9.3" fill="#f59c1a"/>
<text transform="translate(1313.3,1122.6) rotate(-90) scale(0.93,1)" font-size="22.5" fill="#e2001a" stroke="#e2001a" stroke-width="0.1" text-anchor="end">0.35</text>
<path d="M1350.90,988.50H1354.90V1010.00L1356.90,1010.00L1352.90,1035.50L1348.90,1010.00L1350.90,1010.00Z" fill="#2490d6"/>
<text transform="translate(1358.4,984.2) rotate(-90) scale(1.03,1)" font-size="23.0" fill="#2490d6" stroke="#2490d6" stroke-width="0.3" text-anchor="start">[39,52,53,57,58]</text>
<rect x="1351.9" y="1107" width="2" height="9.3" fill="#f59c1a"/>
<text transform="translate(1359.9,1122.6) rotate(-90) scale(0.93,1)" font-size="22.5" fill="#e2001a" stroke="#e2001a" stroke-width="0.1" text-anchor="end">0.4</text>
<path d="M1393.10,988.50H1397.10V1010.00L1399.10,1010.00L1395.10,1035.50L1391.10,1010.00L1393.10,1010.00Z" fill="#2490d6"/>
<text transform="translate(1400.6,984.2) rotate(-90) scale(1.03,1)" font-size="23.0" fill="#2490d6" stroke="#2490d6" stroke-width="0.3" text-anchor="start">[59]</text>
<rect x="1394.1" y="1107" width="2" height="9.3" fill="#f59c1a"/>
<text transform="translate(1402.1,1122.6) rotate(-90) scale(0.93,1)" font-size="22.5" fill="#e2001a" stroke="#e2001a" stroke-width="0.1" text-anchor="end">0.6</text>
<path d="M1444.40,988.50H1448.40V1010.00L1450.40,1010.00L1446.40,1035.50L1442.40,1010.00L1444.40,1010.00Z" fill="#2490d6"/>
<text transform="translate(1451.9,984.2) rotate(-90) scale(1.03,1)" font-size="23.0" fill="#2490d6" stroke="#2490d6" stroke-width="0.3" text-anchor="start">[45]</text>
<rect x="1445.4" y="1107" width="2" height="9.3" fill="#f59c1a"/>
<text transform="translate(1453.4,1122.6) rotate(-90) scale(0.93,1)" font-size="22.5" fill="#e2001a" stroke="#e2001a" stroke-width="0.1" text-anchor="end">1.18</text>
<path d="M1511.90,988.50H1515.90V1009.70L1517.90,1009.70L1513.90,1035.20L1509.90,1009.70L1511.90,1009.70Z" fill="#2490d6"/>
<text transform="translate(1519.4,984.2) rotate(-90) scale(1.03,1)" font-size="23.0" fill="#2490d6" stroke="#2490d6" stroke-width="0.3" text-anchor="start">[45]</text>
<rect x="1512.9" y="1106.7" width="2" height="9.3" fill="#f59c1a"/>
<text transform="translate(1520.9,1122.4) rotate(-90) scale(0.93,1)" font-size="22.5" fill="#e2001a" stroke="#e2001a" stroke-width="0.1" text-anchor="end">0.08</text>
<path d="M1535.90,988.50H1539.90V1009.70L1541.90,1009.70L1537.90,1035.20L1533.90,1009.70L1535.90,1009.70Z" fill="#2490d6"/>
<text transform="translate(1543.4,984.2) rotate(-90) scale(1.03,1)" font-size="23.0" fill="#2490d6" stroke="#2490d6" stroke-width="0.3" text-anchor="start">[46]</text>
<rect x="1536.9" y="1106.7" width="2" height="9.3" fill="#f59c1a"/>
<text transform="translate(1544.9,1122.4) rotate(-90) scale(0.93,1)" font-size="22.5" fill="#e2001a" stroke="#e2001a" stroke-width="0.1" text-anchor="end">0.16</text>
<path d="M1562.00,988.50H1566.00V1009.70L1568.00,1009.70L1564.00,1035.20L1560.00,1009.70L1562.00,1009.70Z" fill="#2490d6"/>
<text transform="translate(1569.5,984.2) rotate(-90) scale(1.03,1)" font-size="23.0" fill="#2490d6" stroke="#2490d6" stroke-width="0.3" text-anchor="start">[46]</text>
<rect x="1563.0" y="1106.7" width="2" height="9.3" fill="#f59c1a"/>
<text transform="translate(1571.0,1122.4) rotate(-90) scale(0.93,1)" font-size="22.5" fill="#e2001a" stroke="#e2001a" stroke-width="0.1" text-anchor="end">0.2</text>
<path d="M1589.40,988.50H1593.40V1009.70L1595.40,1009.70L1591.40,1035.20L1587.40,1009.70L1589.40,1009.70Z" fill="#2490d6"/>
<text transform="translate(1596.9,984.2) rotate(-90) scale(1.03,1)" font-size="23.0" fill="#2490d6" stroke="#2490d6" stroke-width="0.3" text-anchor="start">[42]</text>
<rect x="1590.4" y="1106.7" width="2" height="9.3" fill="#f59c1a"/>
<text transform="translate(1598.4,1122.4) rotate(-90) scale(0.93,1)" font-size="22.5" fill="#e2001a" stroke="#e2001a" stroke-width="0.1" text-anchor="end">0.25</text>
<path d="M1616.40,988.50H1620.40V1009.70L1622.40,1009.70L1618.40,1035.20L1614.40,1009.70L1616.40,1009.70Z" fill="#2490d6"/>
<text transform="translate(1623.9,984.2) rotate(-90) scale(1.03,1)" font-size="23.0" fill="#2490d6" stroke="#2490d6" stroke-width="0.3" text-anchor="start">[42,45,47,51-53,56-58]</text>
<rect x="1617.4" y="1106.7" width="2" height="9.3" fill="#f59c1a"/>
<text transform="translate(1625.4,1122.4) rotate(-90) scale(0.93,1)" font-size="22.5" fill="#e2001a" stroke="#e2001a" stroke-width="0.1" text-anchor="end">0.5</text>
<path d="M1643.80,988.50H1647.80V1009.70L1649.80,1009.70L1645.80,1035.20L1641.80,1009.70L1643.80,1009.70Z" fill="#2490d6"/>
<text transform="translate(1651.3,984.2) rotate(-90) scale(1.03,1)" font-size="23.0" fill="#2490d6" stroke="#2490d6" stroke-width="0.3" text-anchor="start">[42]</text>
<rect x="1644.8" y="1106.7" width="2" height="9.3" fill="#f59c1a"/>
<text transform="translate(1652.8,1122.4) rotate(-90) scale(0.93,1)" font-size="22.5" fill="#e2001a" stroke="#e2001a" stroke-width="0.1" text-anchor="end">0.75</text>
<path d="M1669.90,988.50H1673.90V1009.70L1675.90,1009.70L1671.90,1035.20L1667.90,1009.70L1669.90,1009.70Z" fill="#2490d6"/>
<text transform="translate(1677.4,984.2) rotate(-90) scale(1.03,1)" font-size="23.0" fill="#2490d6" stroke="#2490d6" stroke-width="0.3" text-anchor="start">[38,41-43,47,48]</text>
<rect x="1670.9" y="1106.7" width="2" height="9.3" fill="#f59c1a"/>
<text transform="translate(1678.9,1122.4) rotate(-90) scale(0.93,1)" font-size="22.5" fill="#e2001a" stroke="#e2001a" stroke-width="0.1" text-anchor="end">1</text>
<path d="M1693.00,988.50H1697.00V1009.70L1699.00,1009.70L1695.00,1035.20L1691.00,1009.70L1693.00,1009.70Z" fill="#2490d6"/>
<text transform="translate(1700.5,984.2) rotate(-90) scale(1.03,1)" font-size="23.0" fill="#2490d6" stroke="#2490d6" stroke-width="0.3" text-anchor="start">[42]</text>
<rect x="1694.0" y="1106.7" width="2" height="9.3" fill="#f59c1a"/>
<text transform="translate(1702.0,1122.4) rotate(-90) scale(0.93,1)" font-size="22.5" fill="#e2001a" stroke="#e2001a" stroke-width="0.1" text-anchor="end">1.5</text>
<path d="M1717.80,988.50H1721.80V1009.70L1723.80,1009.70L1719.80,1035.20L1715.80,1009.70L1717.80,1009.70Z" fill="#2490d6"/>
<text transform="translate(1725.3,984.2) rotate(-90) scale(1.03,1)" font-size="23.0" fill="#2490d6" stroke="#2490d6" stroke-width="0.3" text-anchor="start">[46]</text>
<rect x="1718.8" y="1106.7" width="2" height="9.3" fill="#f59c1a"/>
<text transform="translate(1726.8,1122.4) rotate(-90) scale(0.93,1)" font-size="22.5" fill="#e2001a" stroke="#e2001a" stroke-width="0.1" text-anchor="end">2</text>
<path d="M1741.70,988.50H1745.70V1009.70L1747.70,1009.70L1743.70,1035.20L1739.70,1009.70L1741.70,1009.70Z" fill="#2490d6"/>
<text transform="translate(1749.2,984.2) rotate(-90) scale(1.03,1)" font-size="23.0" fill="#2490d6" stroke="#2490d6" stroke-width="0.3" text-anchor="start">[45]</text>
<rect x="1742.7" y="1106.7" width="2" height="9.3" fill="#f59c1a"/>
<text transform="translate(1750.7,1122.4) rotate(-90) scale(0.93,1)" font-size="22.5" fill="#e2001a" stroke="#e2001a" stroke-width="0.1" text-anchor="end">3</text>
<path d="M1764.40,988.50H1768.40V1009.70L1770.40,1009.70L1766.40,1035.20L1762.40,1009.70L1764.40,1009.70Z" fill="#2490d6"/>
<text transform="translate(1771.9,984.2) rotate(-90) scale(1.03,1)" font-size="23.0" fill="#2490d6" stroke="#2490d6" stroke-width="0.3" text-anchor="start">[39]</text>
<rect x="1765.4" y="1106.7" width="2" height="9.3" fill="#f59c1a"/>
<text transform="translate(1773.4,1122.4) rotate(-90) scale(0.93,1)" font-size="22.5" fill="#e2001a" stroke="#e2001a" stroke-width="0.1" text-anchor="end">4</text>
<path d="M1787.40,988.50H1791.40V1009.70L1793.40,1009.70L1789.40,1035.20L1785.40,1009.70L1787.40,1009.70Z" fill="#2490d6"/>
<text transform="translate(1794.9,984.2) rotate(-90) scale(1.03,1)" font-size="23.0" fill="#2490d6" stroke="#2490d6" stroke-width="0.3" text-anchor="start">[40,45]</text>
<rect x="1788.4" y="1106.7" width="2" height="9.3" fill="#f59c1a"/>
<text transform="translate(1796.4,1122.4) rotate(-90) scale(0.93,1)" font-size="22.5" fill="#e2001a" stroke="#e2001a" stroke-width="0.1" text-anchor="end">6</text>
<path d="M1813.60,988.50H1817.60V1009.70L1819.60,1009.70L1815.60,1035.20L1811.60,1009.70L1813.60,1009.70Z" fill="#2490d6"/>
<text transform="translate(1821.1,984.2) rotate(-90) scale(1.03,1)" font-size="23.0" fill="#2490d6" stroke="#2490d6" stroke-width="0.3" text-anchor="start">[45]</text>
<rect x="1814.6" y="1106.7" width="2" height="9.3" fill="#f59c1a"/>
<text transform="translate(1822.6,1122.4) rotate(-90) scale(0.93,1)" font-size="22.5" fill="#e2001a" stroke="#e2001a" stroke-width="0.1" text-anchor="end">12</text>
<path d="M1839.70,988.50H1843.70V1009.70L1845.70,1009.70L1841.70,1035.20L1837.70,1009.70L1839.70,1009.70Z" fill="#2490d6"/>
<text transform="translate(1847.2,984.2) rotate(-90) scale(1.03,1)" font-size="23.0" fill="#2490d6" stroke="#2490d6" stroke-width="0.3" text-anchor="start">[45]</text>
<rect x="1840.7" y="1106.7" width="2" height="9.3" fill="#f59c1a"/>
<text transform="translate(1848.7,1122.4) rotate(-90) scale(0.93,1)" font-size="22.5" fill="#e2001a" stroke="#e2001a" stroke-width="0.1" text-anchor="end">24</text>
<path d="M1863.30,988.50H1867.30V1009.70L1869.30,1009.70L1865.30,1035.20L1861.30,1009.70L1863.30,1009.70Z" fill="#2490d6"/>
<text transform="translate(1870.8,984.2) rotate(-90) scale(1.03,1)" font-size="23.0" fill="#2490d6" stroke="#2490d6" stroke-width="0.3" text-anchor="start">[45]</text>
<rect x="1864.3" y="1106.7" width="2" height="9.3" fill="#f59c1a"/>
<text transform="translate(1872.3,1122.4) rotate(-90) scale(0.93,1)" font-size="22.5" fill="#e2001a" stroke="#e2001a" stroke-width="0.1" text-anchor="end">48</text>
<path d="M1865.8,279.5H1902.8V1063.6H1863.2" stroke="#3a3533" stroke-width="4.6" fill="none"/>
<path d="M1866.5,672.5H1915" stroke="#3a3533" stroke-width="4.4" fill="none"/>
<path d="M1913,660.8L1934.7,672.5L1913,684.2Z" fill="#3a3533"/>
<text x="1934.4" y="690.3" font-size="46.5" font-weight="bold" fill="#3040a0">(</text>
<text x="1984.8" y="690.3" font-size="46.5" font-weight="bold" fill="#3040a0">)</text>
<text x="1967.4" y="692.0" font-size="38.1" fill="#3040a0" text-anchor="middle" font-family="'DejaVu Sans',sans-serif">♦</text>
<defs>
<radialGradient id="bMain" cx="0.30" cy="0.56" r="0.78"><stop offset="0" stop-color="#e9a585"/><stop offset="0.32" stop-color="#d97d5b"/><stop offset="0.7" stop-color="#d86046"/><stop offset="1" stop-color="#cf4a36"/></radialGradient>
<radialGradient id="bMain2" cx="0.30" cy="0.56" r="0.78"><stop offset="0" stop-color="#e9ad8e"/><stop offset="0.32" stop-color="#d98765"/><stop offset="0.7" stop-color="#d6684b"/><stop offset="1" stop-color="#cb523c"/></radialGradient>
<linearGradient id="bBack" x1="0" y1="0" x2="1" y2="1"><stop offset="0" stop-color="#d24a36"/><stop offset="0.5" stop-color="#e9624b"/><stop offset="1" stop-color="#dc523d"/></linearGradient>
<linearGradient id="bCer" x1="0" y1="0" x2="1" y2="1"><stop offset="0" stop-color="#e2614a"/><stop offset="0.6" stop-color="#cf4e39"/><stop offset="1" stop-color="#b8412e"/></linearGradient>
<linearGradient id="bTail" x1="0" y1="0" x2="0" y2="1"><stop offset="0" stop-color="#f4897a"/><stop offset="1" stop-color="#e25d4c"/></linearGradient>
<radialGradient id="bTum" cx="0.42" cy="0.36" r="0.64"><stop offset="0" stop-color="#f0a08d"/><stop offset="0.55" stop-color="#e37565"/><stop offset="1" stop-color="#d25545"/></radialGradient>
<linearGradient id="bOlf" x1="0" y1="0" x2="1" y2="1"><stop offset="0" stop-color="#ec7a66"/><stop offset="1" stop-color="#d9503f"/></linearGradient>
<radialGradient id="cMain" cx="0.30" cy="0.56" r="0.78"><stop offset="0" stop-color="#dfa786"/><stop offset="0.32" stop-color="#c67c5a"/><stop offset="0.7" stop-color="#c56242"/><stop offset="1" stop-color="#b94d37"/></radialGradient>
<linearGradient id="cBack" x1="0" y1="0" x2="1" y2="1"><stop offset="0" stop-color="#b84630"/><stop offset="0.5" stop-color="#d3624a"/><stop offset="1" stop-color="#c5513a"/></linearGradient>
<linearGradient id="cCer" x1="0" y1="0" x2="1" y2="1"><stop offset="0" stop-color="#c65a42"/><stop offset="0.6" stop-color="#b04a34"/><stop offset="1" stop-color="#983c2a"/></linearGradient>
<linearGradient id="cTail" x1="0" y1="0" x2="0" y2="1"><stop offset="0" stop-color="#e28c78"/><stop offset="1" stop-color="#c95c48"/></linearGradient>
<linearGradient id="cOlf" x1="0" y1="0" x2="1" y2="1"><stop offset="0" stop-color="#d87c66"/><stop offset="1" stop-color="#bf503c"/></linearGradient>
<radialGradient id="bHole" cx="0.5" cy="0.5" r="0.5"><stop offset="0" stop-color="#9a5140"/><stop offset="0.3" stop-color="#5e241a"/><stop offset="0.75" stop-color="#3a130e"/><stop offset="0.9" stop-color="#5a2419" stop-opacity="0.7"/><stop offset="1" stop-color="#8a4030" stop-opacity="0"/></radialGradient>
<linearGradient id="patch" x1="0" y1="0" x2="1" y2="0"><stop offset="0" stop-color="#fff" stop-opacity="0.9"/><stop offset="0.7" stop-color="#fff" stop-opacity="0.7"/><stop offset="1" stop-color="#fff" stop-opacity="0.15"/></linearGradient>
<radialGradient id="patchR" cx="0.5" cy="0.5" r="0.5"><stop offset="0" stop-color="#fff" stop-opacity="0.55"/><stop offset="0.6" stop-color="#fff" stop-opacity="0.35"/><stop offset="1" stop-color="#fff" stop-opacity="0"/></radialGradient>
<filter id="ib14" x="-30%" y="-30%" width="160%" height="160%"><feGaussianBlur stdDeviation="16"/></filter>
<filter id="ib6" x="-30%" y="-30%" width="160%" height="160%"><feGaussianBlur stdDeviation="7"/></filter>
<filter id="ib2" x="-30%" y="-30%" width="160%" height="160%"><feGaussianBlur stdDeviation="2.5"/></filter>
<linearGradient id="syr" x1="0" y1="0" x2="1" y2="0"><stop offset="0" stop-color="#7d8587"/><stop offset="0.45" stop-color="#c9cfd0"/><stop offset="1" stop-color="#878f91"/></linearGradient>
<linearGradient id="syrY" x1="0" y1="0" x2="1" y2="0"><stop offset="0" stop-color="#a89312"/><stop offset="0.5" stop-color="#e2cc2a"/><stop offset="1" stop-color="#9c8810"/></linearGradient>
<radialGradient id="ratB" cx="0.5" cy="0.35" r="0.7"><stop offset="0" stop-color="#cfcfd1"/><stop offset="0.5" stop-color="#a0a0a3"/><stop offset="1" stop-color="#707074"/></radialGradient>
<linearGradient id="magL" x1="0" y1="0" x2="1" y2="0"><stop offset="0" stop-color="#c8661f"/><stop offset="0.35" stop-color="#f0883a"/><stop offset="0.5" stop-color="#b9571a"/><stop offset="1" stop-color="#ec7a30"/></linearGradient>
<linearGradient id="magR" x1="0" y1="0" x2="1" y2="1"><stop offset="0" stop-color="#f29a55"/><stop offset="1" stop-color="#d9621f"/></linearGradient>
<radialGradient id="rat2B" cx="0.6" cy="0.45" r="0.7"><stop offset="0" stop-color="#b4b6b9"/><stop offset="0.5" stop-color="#87898d"/><stop offset="1" stop-color="#5d5f63"/></radialGradient>
</defs>
<g transform="translate(380,1230) scale(0.12993762993762994) translate(0,0) scale(1.0,1.0)">
<path d="M560,470 C700,300 1100,330 1420,560 C1560,640 1700,760 1640,840 C1560,900 1300,860 1150,880 C900,900 640,840 540,700 C500,620 500,540 560,470 Z" fill="#2c6f7a" opacity="0.55" filter="url(#ib14)"/>
<path d="M230,440 C300,420 380,430 440,470 L430,500 C360,490 290,490 240,480 Z" fill="#2c6f7a" opacity="0.35" filter="url(#ib6)"/>
<path d="M425,343 C340,338 250,372 203,418 C183,448 205,472 250,466 C315,452 385,452 440,462 Z" fill="url(#bTail)"/>
<path d="M415,560 C404,450 418,325 470,262 C520,208 625,198 685,240 C705,255 716,270 722,292 L560,365 C500,405 470,485 476,565 C481,622 472,642 450,642 C425,642 418,602 415,560 Z" fill="url(#bCer)"/>
<path d="M470,262 C520,208 625,198 685,240 C640,225 560,240 500,300 C470,340 450,420 445,520 C440,440 440,320 470,262 Z" fill="#ee7560" opacity="0.55"/>
<path d="M712,268 C758,200 850,183 940,208 C1100,258 1300,400 1392,580 C1402,602 1396,622 1376,637 L700,292 Z" fill="url(#bBack)"/>
<path d="M760,235 C850,205 960,235 1080,310 C1200,390 1300,480 1360,570 C1280,500 1150,420 1020,360 C920,315 820,280 740,272 Z" fill="#f5846c" opacity="0.55" filter="url(#ib6)"/>
<path d="M480,560 C462,462 520,352 640,322 C700,304 782,322 900,382 L1366,632 C1392,652 1386,692 1340,742 C1250,812 1080,852 950,842 C750,830 600,762 520,662 C496,632 486,600 480,560 Z" fill="url(#bMain)"/>
<path d="M520,662 C600,762 750,830 950,842 C1080,852 1250,812 1340,742 C1250,790 1090,812 950,800 C770,788 620,720 520,662 Z" fill="#c6523a" opacity="0.55" filter="url(#ib6)"/>
<path d="M1100,500 L1366,632 C1392,652 1386,692 1340,742 C1290,780 1230,800 1180,812 C1240,720 1220,600 1100,500 Z" fill="#e2553f" opacity="0.55" filter="url(#ib14)"/>
<path d="M700,286 C900,370 1150,500 1372,634" stroke="#8a3122" stroke-width="22" stroke-linecap="round" fill="none" opacity="0.55" filter="url(#ib2)"/>
<path d="M700,286 C900,370 1150,500 1372,634" stroke="#6f2418" stroke-width="9" stroke-linecap="round" fill="none"/>
<path d="M640,322 C700,304 782,322 900,382 L1200,545" stroke="#f0a285" stroke-width="46" stroke-linecap="round" fill="none" opacity="0.28" filter="url(#ib6)" transform="translate(-12,40)"/>
<path d="M480,560 C462,462 520,352 640,322 C600,360 540,440 520,600 Z" fill="#b8543c" opacity="0.45" filter="url(#ib6)"/>
<path d="M722,292 L560,365 C500,405 470,485 476,565" stroke="#9c3a28" stroke-width="7" fill="none" opacity="0.6" filter="url(#ib2)"/>
<ellipse cx="870" cy="590" rx="100" ry="85" fill="#b8452f" opacity="0.5" filter="url(#ib6)"/>
<circle cx="845" cy="555" r="98" fill="url(#bTum)"/>
<path d="M1338,745 C1356,692 1388,642 1420,630 C1482,640 1542,690 1556,732 C1562,772 1542,812 1500,822 C1440,822 1368,800 1328,770 Z" fill="url(#bOlf)"/>
<path d="M1345,745 C1380,735 1440,760 1500,815 C1440,818 1370,798 1330,770 Z" fill="#f08d78" opacity="0.7"/>
<path d="M1382,682 C1440,700 1500,722 1532,742" stroke="#7c2a1d" stroke-width="8" stroke-linecap="round" fill="none"/>
</g>
<g transform="translate(1560,1230) scale(0.12993762993762994) translate(39.82500000000002,24.215000000000003) scale(0.965,0.963)">
<path d="M560,470 C700,300 1100,330 1420,560 C1560,640 1700,760 1640,840 C1560,900 1300,860 1150,880 C900,900 640,840 540,700 C500,620 500,540 560,470 Z" fill="#2c6f7a" opacity="0.55" filter="url(#ib14)"/>
<path d="M230,440 C300,420 380,430 440,470 L430,500 C360,490 290,490 240,480 Z" fill="#2c6f7a" opacity="0.35" filter="url(#ib6)"/>
<path d="M425,343 C340,338 250,372 203,418 C183,448 205,472 250,466 C315,452 385,452 440,462 Z" fill="url(#cTail)"/>
<path d="M415,560 C404,450 418,325 470,262 C520,208 625,198 685,240 C705,255 716,270 722,292 L560,365 C500,405 470,485 476,565 C481,622 472,642 450,642 C425,642 418,602 415,560 Z" fill="url(#cCer)"/>
<path d="M470,262 C520,208 625,198 685,240 C640,225 560,240 500,300 C470,340 450,420 445,520 C440,440 440,320 470,262 Z" fill="#d2664e" opacity="0.55"/>
<path d="M712,268 C758,200 850,183 940,208 C1100,258 1300,400 1392,580 C1402,602 1396,622 1376,637 L700,292 Z" fill="url(#cBack)"/>
<path d="M760,235 C850,205 960,235 1080,310 C1200,390 1300,480 1360,570 C1280,500 1150,420 1020,360 C920,315 820,280 740,272 Z" fill="#dd7a60" opacity="0.55" filter="url(#ib6)"/>
<path d="M480,560 C462,462 520,352 640,322 C700,304 782,322 900,382 L1366,632 C1392,652 1386,692 1340,742 C1250,812 1080,852 950,842 C750,830 600,762 520,662 C496,632 486,600 480,560 Z" fill="url(#cMain)"/>
<path d="M520,662 C600,762 750,830 950,842 C1080,852 1250,812 1340,742 C1250,790 1090,812 950,800 C770,788 620,720 520,662 Z" fill="#c6523a" opacity="0.55" filter="url(#ib6)"/>
<path d="M1100,500 L1366,632 C1392,652 1386,692 1340,742 C1290,780 1230,800 1180,812 C1240,720 1220,600 1100,500 Z" fill="#c24a33" opacity="0.55" filter="url(#ib14)"/>
<path d="M700,286 C900,370 1150,500 1372,634" stroke="#8a3122" stroke-width="22" stroke-linecap="round" fill="none" opacity="0.55" filter="url(#ib2)"/>
<path d="M700,286 C900,370 1150,500 1372,634" stroke="#6f2418" stroke-width="9" stroke-linecap="round" fill="none"/>
<path d="M640,322 C700,304 782,322 900,382 L1200,545" stroke="#f0a285" stroke-width="46" stroke-linecap="round" fill="none" opacity="0.28" filter="url(#ib6)" transform="translate(-12,40)"/>
<path d="M480,560 C462,462 520,352 640,322 C600,360 540,440 520,600 Z" fill="#b8543c" opacity="0.45" filter="url(#ib6)"/>
<path d="M722,292 L560,365 C500,405 470,485 476,565" stroke="#9c3a28" stroke-width="7" fill="none" opacity="0.6" filter="url(#ib2)"/>
<circle cx="852" cy="560" r="118" fill="url(#bHole)"/>
<circle cx="845" cy="552" r="40" fill="#b4604c" opacity="0.55" filter="url(#ib6)"/>
<path d="M1338,745 C1356,692 1388,642 1420,630 C1482,640 1542,690 1556,732 C1562,772 1542,812 1500,822 C1440,822 1368,800 1328,770 Z" fill="url(#cOlf)"/>
<path d="M1345,745 C1380,735 1440,760 1500,815 C1440,818 1370,798 1330,770 Z" fill="#d98570" opacity="0.7"/>
<path d="M1382,682 C1440,700 1500,722 1532,742" stroke="#7c2a1d" stroke-width="8" stroke-linecap="round" fill="none"/>
</g>
<path d="M637.6,1299.2H689.2V1295.2L747.1,1303.2L689.2,1311.2V1307.2H637.6Z" fill="none" stroke="#3a3231" stroke-width="2.3" stroke-linejoin="miter"/>
<path d="M1089.5,1301H1141.1V1297L1199.0,1305L1141.1,1313V1309H1089.5Z" fill="none" stroke="#3a3231" stroke-width="2.3" stroke-linejoin="miter"/>
<path d="M1418.7,1301H1470.3V1297L1528.2,1305L1470.3,1313V1309H1418.7Z" fill="none" stroke="#3a3231" stroke-width="2.3" stroke-linejoin="miter"/>
<g transform="translate(800,1225) scale(0.12993762993762994)">
<path d="M900,900 C1100,960 1500,960 1800,760 C1900,700 1850,660 1760,700 C1600,800 1300,880 900,900 Z" fill="#4d8a96" opacity="0.45" filter="url(#ib14)"/>
<path d="M700,690 C560,700 455,800 450,905 C448,1010 560,1060 625,1130 C650,1165 635,1195 612,1215 C655,1195 672,1160 655,1120 C600,1040 500,1000 492,905 C490,830 580,760 700,735 Z" fill="#e98a7e"/>
<path d="M690,700 C570,715 475,805 470,905 C470,990 560,1045 630,1125" stroke="#f6b3a8" stroke-width="8" fill="none" opacity="0.7"/>
<path d="M655,690 C670,560 800,440 960,412 C1100,392 1250,420 1400,498 C1480,520 1560,540 1640,590 C1720,640 1770,668 1776,690 C1772,728 1700,768 1600,790 C1520,830 1450,872 1380,902 C1280,922 1200,902 1100,882 C1000,892 900,872 820,822 C740,782 676,742 655,690 Z" fill="url(#ratB)"/>
<path d="M760,560 C850,450 1050,410 1250,450 C1350,480 1420,520 1450,560 C1300,520 1100,500 950,540 C860,570 800,620 740,680 Z" fill="#c3c3c6" opacity="0.7" filter="url(#ib14)"/>
<path d="M820,822 C900,872 1000,892 1100,882 C1200,902 1280,922 1380,902 C1450,872 1520,830 1600,790 C1450,820 1250,830 1100,800 C980,790 880,790 820,822 Z" fill="#4a4a4e" opacity="0.6" filter="url(#ib6)"/>
<path d="M1040,600 C1080,700 1070,800 1020,880" stroke="#5a5a5e" stroke-width="30" fill="none" opacity="0.45" filter="url(#ib6)"/>
<path d="M1560,600 C1640,610 1720,650 1770,690 C1740,740 1660,770 1580,780 C1620,720 1610,650 1560,600 Z" fill="#c9c9cc" opacity="0.75" filter="url(#ib6)"/>
<clipPath id="rat1clip"><path d="M655,690 C670,560 800,440 960,412 C1100,392 1250,420 1400,498 C1480,520 1560,540 1640,590 C1720,640 1770,668 1776,690 C1772,728 1700,768 1600,790 C1520,830 1450,872 1380,902 C1280,922 1200,902 1100,882 C1000,892 900,872 820,822 C740,782 676,742 655,690 Z"/></clipPath>
<g clip-path="url(#rat1clip)" fill="none" stroke-linecap="round">
<path d="M1016,485L942,500" stroke="#6a6a6e" stroke-width="6.3" opacity="0.39"/>
<path d="M1661,517L1619,534" stroke="#dcdcde" stroke-width="5.7" opacity="0.39"/>
<path d="M1570,472L1524,497" stroke="#e9e9ea" stroke-width="5.6" opacity="0.58"/>
<path d="M1734,433L1651,460" stroke="#dcdcde" stroke-width="6.3" opacity="0.57"/>
<path d="M1276,751L1235,771" stroke="#dcdcde" stroke-width="6.2" opacity="0.50"/>
<path d="M729,440L685,465" stroke="#55555a" stroke-width="5.9" opacity="0.66"/>
<path d="M1676,591L1624,604" stroke="#dcdcde" stroke-width="5.2" opacity="0.38"/>
<path d="M1205,582L1147,612" stroke="#e9e9ea" stroke-width="5.7" opacity="0.40"/>
<path d="M1493,486L1427,497" stroke="#47474b" stroke-width="6.2" opacity="0.38"/>
<path d="M1528,819L1473,839" stroke="#55555a" stroke-width="5.8" opacity="0.58"/>
<path d="M1584,882L1526,915" stroke="#e9e9ea" stroke-width="5.2" opacity="0.64"/>
<path d="M1296,751L1241,784" stroke="#47474b" stroke-width="7.8" opacity="0.49"/>
<path d="M1051,715L986,733" stroke="#f4f4f5" stroke-width="5.0" opacity="0.40"/>
<path d="M1090,846L1049,863" stroke="#6a6a6e" stroke-width="4.5" opacity="0.46"/>
<path d="M1134,685L1073,735" stroke="#47474b" stroke-width="7.8" opacity="0.70"/>
<path d="M826,498L775,513" stroke="#55555a" stroke-width="4.7" opacity="0.68"/>
<path d="M970,483L909,515" stroke="#f4f4f5" stroke-width="6.8" opacity="0.73"/>
<path d="M1227,719L1151,733" stroke="#47474b" stroke-width="5.6" opacity="0.67"/>
<path d="M1099,462L1025,475" stroke="#e9e9ea" stroke-width="5.8" opacity="0.74"/>
<path d="M781,710L740,731" stroke="#6a6a6e" stroke-width="5.5" opacity="0.39"/>
<path d="M688,847L616,864" stroke="#f4f4f5" stroke-width="6.4" opacity="0.73"/>
<path d="M1182,468L1130,510" stroke="#55555a" stroke-width="4.3" opacity="0.54"/>
<path d="M772,581L728,612" stroke="#dcdcde" stroke-width="4.8" opacity="0.56"/>
<path d="M1707,591L1645,638" stroke="#6a6a6e" stroke-width="6.6" opacity="0.47"/>
<path d="M760,833L706,874" stroke="#f4f4f5" stroke-width="6.1" opacity="0.66"/>
<path d="M1517,575L1474,604" stroke="#dcdcde" stroke-width="7.3" opacity="0.67"/>
<path d="M1474,523L1409,547" stroke="#e9e9ea" stroke-width="7.2" opacity="0.75"/>
<path d="M1179,507L1110,531" stroke="#47474b" stroke-width="7.8" opacity="0.75"/>
<path d="M1061,520L1010,534" stroke="#dcdcde" stroke-width="7.9" opacity="0.54"/>
<path d="M1331,411L1246,441" stroke="#47474b" stroke-width="6.6" opacity="0.38"/>
<path d="M1661,801L1586,834" stroke="#dcdcde" stroke-width="6.5" opacity="0.52"/>
<path d="M755,883L682,914" stroke="#47474b" stroke-width="6.9" opacity="0.73"/>
<path d="M847,474L808,503" stroke="#47474b" stroke-width="7.3" opacity="0.41"/>
<path d="M1738,739L1685,765" stroke="#dcdcde" stroke-width="7.2" opacity="0.36"/>
<path d="M1459,461L1380,480" stroke="#dcdcde" stroke-width="4.8" opacity="0.68"/>
<path d="M937,556L890,581" stroke="#f4f4f5" stroke-width="7.3" opacity="0.57"/>
<path d="M727,780L649,824" stroke="#6a6a6e" stroke-width="7.7" opacity="0.52"/>
<path d="M1212,676L1144,687" stroke="#55555a" stroke-width="6.4" opacity="0.66"/>
<path d="M1514,485L1471,507" stroke="#e9e9ea" stroke-width="5.3" opacity="0.57"/>
<path d="M1230,688L1149,705" stroke="#6a6a6e" stroke-width="4.8" opacity="0.37"/>
<path d="M706,459L642,470" stroke="#e9e9ea" stroke-width="6.5" opacity="0.53"/>
<path d="M1216,666L1144,696" stroke="#6a6a6e" stroke-width="6.0" opacity="0.67"/>
<path d="M932,672L863,726" stroke="#6a6a6e" stroke-width="4.8" opacity="0.71"/>
<path d="M1152,618L1094,638" stroke="#47474b" stroke-width="4.3" opacity="0.45"/>
<path d="M1396,802L1310,823" stroke="#47474b" stroke-width="5.5" opacity="0.61"/>
<path d="M938,479L883,514" stroke="#e9e9ea" stroke-width="5.9" opacity="0.51"/>
<path d="M1749,826L1704,845" stroke="#6a6a6e" stroke-width="5.7" opacity="0.51"/>
<path d="M1052,456L996,476" stroke="#55555a" stroke-width="4.1" opacity="0.53"/>
<path d="M1025,722L958,735" stroke="#dcdcde" stroke-width="4.4" opacity="0.74"/>
<path d="M952,430L873,454" stroke="#dcdcde" stroke-width="7.4" opacity="0.68"/>
<path d="M1404,883L1347,910" stroke="#6a6a6e" stroke-width="6.8" opacity="0.58"/>
<path d="M758,439L686,468" stroke="#e9e9ea" stroke-width="4.1" opacity="0.46"/>
<path d="M757,540L687,560" stroke="#f4f4f5" stroke-width="5.8" opacity="0.70"/>
<path d="M1033,687L946,713" stroke="#dcdcde" stroke-width="6.8" opacity="0.37"/>
<path d="M1692,895L1639,908" stroke="#f4f4f5" stroke-width="6.1" opacity="0.60"/>
<path d="M886,633L813,656" stroke="#e9e9ea" stroke-width="4.1" opacity="0.75"/>
<path d="M680,663L595,702" stroke="#dcdcde" stroke-width="4.4" opacity="0.72"/>
<path d="M1561,626L1506,665" stroke="#55555a" stroke-width="5.2" opacity="0.74"/>
<path d="M897,525L856,555" stroke="#47474b" stroke-width="5.6" opacity="0.60"/>
<path d="M1042,437L996,446" stroke="#47474b" stroke-width="5.7" opacity="0.70"/>
<path d="M721,743L665,768" stroke="#f4f4f5" stroke-width="6.8" opacity="0.59"/>
<path d="M710,503L656,511" stroke="#f4f4f5" stroke-width="7.9" opacity="0.73"/>
<path d="M1262,532L1173,562" stroke="#f4f4f5" stroke-width="5.3" opacity="0.42"/>
<path d="M752,549L679,571" stroke="#e9e9ea" stroke-width="7.3" opacity="0.39"/>
<path d="M818,703L760,722" stroke="#47474b" stroke-width="6.3" opacity="0.44"/>
<path d="M1242,785L1177,825" stroke="#6a6a6e" stroke-width="5.3" opacity="0.51"/>
<path d="M1743,485L1673,523" stroke="#e9e9ea" stroke-width="6.9" opacity="0.68"/>
<path d="M1224,625L1153,657" stroke="#6a6a6e" stroke-width="6.3" opacity="0.65"/>
<path d="M1554,418L1490,461" stroke="#47474b" stroke-width="6.8" opacity="0.62"/>
<path d="M913,426L868,442" stroke="#e9e9ea" stroke-width="5.8" opacity="0.50"/>
<path d="M716,419L649,439" stroke="#f4f4f5" stroke-width="7.2" opacity="0.35"/>
<path d="M1483,661L1423,696" stroke="#e9e9ea" stroke-width="5.9" opacity="0.65"/>
<path d="M1550,833L1505,861" stroke="#dcdcde" stroke-width="7.9" opacity="0.65"/>
<path d="M1203,601L1146,635" stroke="#e9e9ea" stroke-width="6.6" opacity="0.60"/>
<path d="M745,484L699,512" stroke="#f4f4f5" stroke-width="4.5" opacity="0.60"/>
<path d="M1191,653L1099,672" stroke="#dcdcde" stroke-width="5.2" opacity="0.62"/>
<path d="M1228,642L1164,656" stroke="#6a6a6e" stroke-width="7.9" opacity="0.43"/>
<path d="M1690,419L1636,456" stroke="#55555a" stroke-width="5.5" opacity="0.75"/>
<path d="M1668,875L1625,884" stroke="#47474b" stroke-width="7.8" opacity="0.56"/>
<path d="M806,820L751,861" stroke="#47474b" stroke-width="6.0" opacity="0.50"/>
<path d="M1624,607L1586,637" stroke="#47474b" stroke-width="5.2" opacity="0.53"/>
<path d="M815,582L768,615" stroke="#e9e9ea" stroke-width="5.4" opacity="0.48"/>
<path d="M1098,880L1048,888" stroke="#47474b" stroke-width="5.5" opacity="0.47"/>
<path d="M1092,909L1024,934" stroke="#55555a" stroke-width="7.4" opacity="0.65"/>
<path d="M969,436L902,472" stroke="#dcdcde" stroke-width="5.1" opacity="0.45"/>
<path d="M1222,505L1175,543" stroke="#e9e9ea" stroke-width="6.5" opacity="0.67"/>
<path d="M1665,880L1605,917" stroke="#e9e9ea" stroke-width="5.6" opacity="0.72"/>
<path d="M1336,479L1256,515" stroke="#6a6a6e" stroke-width="5.9" opacity="0.40"/>
<path d="M1038,559L976,610" stroke="#f4f4f5" stroke-width="5.0" opacity="0.51"/>
<path d="M1192,744L1151,767" stroke="#e9e9ea" stroke-width="7.6" opacity="0.43"/>
<path d="M1207,520L1138,578" stroke="#55555a" stroke-width="6.2" opacity="0.52"/>
<path d="M928,497L862,520" stroke="#f4f4f5" stroke-width="6.3" opacity="0.45"/>
<path d="M1636,785L1578,808" stroke="#6a6a6e" stroke-width="5.1" opacity="0.43"/>
<path d="M1487,659L1420,683" stroke="#47474b" stroke-width="6.5" opacity="0.55"/>
<path d="M1609,518L1556,534" stroke="#55555a" stroke-width="5.7" opacity="0.61"/>
<path d="M1003,817L912,838" stroke="#55555a" stroke-width="7.6" opacity="0.63"/>
<path d="M1181,704L1143,718" stroke="#6a6a6e" stroke-width="7.9" opacity="0.69"/>
<path d="M933,465L889,485" stroke="#47474b" stroke-width="7.3" opacity="0.39"/>
<path d="M1431,833L1344,851" stroke="#e9e9ea" stroke-width="4.5" opacity="0.35"/>
<path d="M1286,429L1225,479" stroke="#47474b" stroke-width="6.5" opacity="0.45"/>
<path d="M1428,466L1389,485" stroke="#6a6a6e" stroke-width="5.0" opacity="0.43"/>
<path d="M1530,411L1476,455" stroke="#f4f4f5" stroke-width="6.6" opacity="0.73"/>
<path d="M1632,648L1581,663" stroke="#55555a" stroke-width="5.2" opacity="0.63"/>
<path d="M684,659L612,688" stroke="#f4f4f5" stroke-width="5.7" opacity="0.44"/>
<path d="M1067,656L1000,697" stroke="#f4f4f5" stroke-width="4.8" opacity="0.62"/>
<path d="M1537,780L1471,797" stroke="#dcdcde" stroke-width="7.3" opacity="0.47"/>
<path d="M914,521L836,546" stroke="#6a6a6e" stroke-width="4.7" opacity="0.55"/>
<path d="M906,619L846,666" stroke="#dcdcde" stroke-width="4.2" opacity="0.72"/>
<path d="M686,708L632,740" stroke="#dcdcde" stroke-width="7.6" opacity="0.51"/>
<path d="M1632,776L1557,835" stroke="#f4f4f5" stroke-width="6.6" opacity="0.43"/>
<path d="M1237,644L1189,674" stroke="#f4f4f5" stroke-width="5.8" opacity="0.74"/>
<path d="M780,449L739,466" stroke="#e9e9ea" stroke-width="7.0" opacity="0.57"/>
<path d="M1078,794L1031,826" stroke="#e9e9ea" stroke-width="5.9" opacity="0.37"/>
<path d="M1070,870L1022,887" stroke="#55555a" stroke-width="5.6" opacity="0.36"/>
<path d="M1553,793L1511,800" stroke="#e9e9ea" stroke-width="4.2" opacity="0.67"/>
<path d="M874,441L806,467" stroke="#f4f4f5" stroke-width="6.5" opacity="0.73"/>
<path d="M948,768L894,785" stroke="#e9e9ea" stroke-width="6.4" opacity="0.64"/>
<path d="M1546,883L1510,908" stroke="#e9e9ea" stroke-width="7.8" opacity="0.54"/>
<path d="M1709,603L1659,624" stroke="#55555a" stroke-width="6.0" opacity="0.40"/>
<path d="M670,876L621,904" stroke="#dcdcde" stroke-width="5.3" opacity="0.59"/>
<path d="M1012,591L930,607" stroke="#dcdcde" stroke-width="4.6" opacity="0.51"/>
<path d="M1109,735L1049,764" stroke="#dcdcde" stroke-width="7.5" opacity="0.74"/>
<path d="M1747,542L1703,551" stroke="#55555a" stroke-width="7.9" opacity="0.75"/>
<path d="M851,476L798,516" stroke="#dcdcde" stroke-width="7.4" opacity="0.65"/>
<path d="M1391,471L1309,497" stroke="#6a6a6e" stroke-width="5.0" opacity="0.46"/>
<path d="M946,630L898,644" stroke="#f4f4f5" stroke-width="6.3" opacity="0.70"/>
<path d="M1019,608L933,647" stroke="#dcdcde" stroke-width="4.4" opacity="0.61"/>
<path d="M1170,429L1138,452" stroke="#dcdcde" stroke-width="7.7" opacity="0.69"/>
<path d="M704,557L659,569" stroke="#6a6a6e" stroke-width="4.3" opacity="0.43"/>
<path d="M1224,499L1163,539" stroke="#47474b" stroke-width="4.4" opacity="0.73"/>
<path d="M1316,720L1267,738" stroke="#dcdcde" stroke-width="8.0" opacity="0.37"/>
<path d="M702,776L627,827" stroke="#f4f4f5" stroke-width="5.5" opacity="0.51"/>
<path d="M1343,449L1305,466" stroke="#55555a" stroke-width="4.4" opacity="0.38"/>
<path d="M1095,685L1021,700" stroke="#dcdcde" stroke-width="5.1" opacity="0.51"/>
<path d="M1747,744L1685,755" stroke="#47474b" stroke-width="5.4" opacity="0.58"/>
<path d="M1118,842L1029,875" stroke="#dcdcde" stroke-width="5.6" opacity="0.51"/>
<path d="M1696,627L1649,637" stroke="#e9e9ea" stroke-width="7.5" opacity="0.51"/>
<path d="M1167,491L1130,509" stroke="#47474b" stroke-width="5.6" opacity="0.67"/>
<path d="M1290,874L1212,893" stroke="#f4f4f5" stroke-width="6.1" opacity="0.46"/>
<path d="M1678,464L1622,502" stroke="#dcdcde" stroke-width="7.3" opacity="0.47"/>
<path d="M708,866L657,893" stroke="#47474b" stroke-width="7.6" opacity="0.51"/>
<path d="M1342,822L1302,849" stroke="#dcdcde" stroke-width="6.5" opacity="0.60"/>
<path d="M876,646L806,659" stroke="#6a6a6e" stroke-width="5.4" opacity="0.41"/>
<path d="M824,895L742,917" stroke="#6a6a6e" stroke-width="6.7" opacity="0.69"/>
<path d="M1395,572L1338,596" stroke="#47474b" stroke-width="6.6" opacity="0.66"/>
<path d="M999,535L941,556" stroke="#6a6a6e" stroke-width="4.1" opacity="0.53"/>
<path d="M1341,655L1296,683" stroke="#55555a" stroke-width="7.2" opacity="0.68"/>
<path d="M1100,444L1044,464" stroke="#55555a" stroke-width="6.6" opacity="0.55"/>
<path d="M705,475L619,504" stroke="#47474b" stroke-width="4.2" opacity="0.55"/>
<path d="M1214,599L1124,620" stroke="#e9e9ea" stroke-width="6.9" opacity="0.75"/>
</g>
<ellipse cx="1590" cy="500" rx="32" ry="40" fill="#f2a79b" stroke="#d98578" stroke-width="6"/>
<ellipse cx="1505" cy="580" rx="44" ry="64" fill="#f6b5a8" stroke="#de8a7c" stroke-width="7" transform="rotate(-12 1505 580)"/>
<circle cx="1635" cy="640" r="17" fill="#141414"/><circle cx="1629" cy="634" r="5" fill="#fff"/>
<circle cx="1758" cy="690" r="16" fill="#eb9d90"/>
<ellipse cx="1375" cy="712" rx="30" ry="14" fill="#a41c1c" transform="rotate(-15 1375 712)"/>
<path d="M895,880 C950,870 1040,890 1090,915 C1060,935 1000,940 975,930 C940,900 915,900 895,880 Z" fill="#e47a68"/>
<path d="M1240,915 C1300,905 1370,925 1400,950 C1360,968 1310,968 1290,960 C1275,935 1255,930 1240,915 Z" fill="#e47a68"/>
<path d="M1430,850 C1480,835 1530,850 1555,878 C1520,892 1480,892 1462,886 Z" fill="#e47a68"/>
<path d="M540,770 C640,700 760,660 850,560 C930,500 1080,490 1180,535 C1220,560 1240,585 1250,600" stroke="#e2343a" stroke-width="5" fill="none" opacity="0.9"/>
<path d="M640,715 C760,690 830,650 890,635" stroke="#e2343a" stroke-width="4" fill="none" opacity="0.9"/>
<path d="M1320,600 C1380,590 1430,600 1470,590" stroke="#e2343a" stroke-width="3.5" fill="none" opacity="0.8"/>
<path d="M900,600 C980,560 1100,560 1160,600 C1200,640 1260,650 1290,690" stroke="#e86a78" stroke-width="3" fill="none" opacity="0.6"/>
<g transform="translate(186,108) rotate(-29.12)">
<ellipse cx="0" cy="8" rx="64" ry="17" fill="#8c9496" stroke="#5f6668" stroke-width="4"/>
<rect x="-29.4" y="10" width="58.8" height="281.1" fill="url(#syr)"/>
<ellipse cx="0" cy="295.2" rx="77" ry="14" fill="#7d8587" stroke="#555c5e" stroke-width="4"/>
<rect x="-35.0" y="295.2" width="70" height="231.9" fill="url(#syr)" stroke="#6a7173" stroke-width="3"/>
<rect x="-35.0" y="492.0" width="70" height="42.2" fill="#3c4042"/>
<path d="M-35.0,530.6H35.0V618.5L12.6,643.1H-12.6L-35.0,618.5Z" fill="url(#syrY)" stroke="#6f6410" stroke-width="3"/>
<path d="M0,643.1V702.8" stroke="#8a9092" stroke-width="4"/>
</g>
<g transform="translate(936,96) rotate(-35.68)">
<ellipse cx="0" cy="8" rx="66" ry="17" fill="#8c9496" stroke="#5f6668" stroke-width="4"/>
<rect x="-30.2" y="10" width="60.5" height="262.0" fill="url(#syr)"/>
<ellipse cx="0" cy="275.1" rx="79" ry="14" fill="#7d8587" stroke="#555c5e" stroke-width="4"/>
<rect x="-36.0" y="275.1" width="72" height="216.1" fill="url(#syr)" stroke="#6a7173" stroke-width="3"/>
<rect x="-36.0" y="458.5" width="72" height="39.3" fill="#3c4042"/>
<path d="M-36.0,494.5H36.0V576.3L13.0,599.3H-13.0L-36.0,576.3Z" fill="url(#syrY)" stroke="#6f6410" stroke-width="3"/>
<path d="M0,599.3V654.9" stroke="#8a9092" stroke-width="4"/>
</g>
</g>
<g transform="translate(1220,1225) scale(0.10941)">
<ellipse cx="1050" cy="680" rx="520" ry="470" fill="url(#patchR)"/>
<path d="M700,1180 C900,1000 1100,820 1350,700 C1250,900 1000,1100 800,1230 Z" fill="#5b97a3" opacity="0.16" filter="url(#ib14)"/>
<path d="M650,190 C670,100 720,55 745,60 C790,90 800,160 800,215 C760,235 700,230 650,190 Z" fill="#f4b3a4" stroke="#e09080" stroke-width="6"/>
<path d="M880,215 C900,170 960,140 1015,140 C1020,200 1000,290 985,330 C940,320 890,280 880,215 Z" fill="#9a8f86"/>
<path d="M900,215 C930,185 960,170 990,165 C985,210 975,260 965,300 Z" fill="#dcdad6" opacity="0.8"/>
<path d="M290,150 C340,190 400,215 440,240 C520,220 600,250 640,320 C720,280 820,280 900,310 C960,350 1020,410 1080,480 C1120,520 1160,550 1180,585 C1170,640 1140,690 1100,720 C1040,760 980,780 900,800 C800,810 700,810 620,840 C540,900 480,960 420,1000 L290,1010 Z" fill="url(#rat2B)"/>
<path d="M640,560 C760,500 900,520 1000,600 C1060,650 1100,690 1100,720 C1000,770 850,800 700,800 C640,740 620,640 640,560 Z" fill="#c7c9cc" opacity="0.7" filter="url(#ib14)"/>
<path d="M290,150 C340,190 400,215 440,240 L470,960 L290,1010 Z" fill="#8d8f93" opacity="0.55"/>
<path d="M290,700 C360,760 420,850 440,960 L290,1010 Z" fill="#55575b" opacity="0.4" filter="url(#ib6)"/>
<clipPath id="rat2clip"><path d="M290,150 C340,190 400,215 440,240 C520,220 600,250 640,320 C720,280 820,280 900,310 C960,350 1020,410 1080,480 C1120,520 1160,550 1180,585 C1170,640 1140,690 1100,720 C1040,760 980,780 900,800 C800,810 700,810 620,840 C540,900 480,960 420,1000 L290,1010 Z"/></clipPath>
<g clip-path="url(#rat2clip)" fill="none" stroke-linecap="round">
<path d="M679,630L602,686" stroke="#63656a" stroke-width="7.4" opacity="0.42"/>
<path d="M981,560L912,592" stroke="#4d4f53" stroke-width="5.2" opacity="0.38"/>
<path d="M986,742L963,778" stroke="#4d4f53" stroke-width="6.6" opacity="0.57"/>
<path d="M425,173L358,197" stroke="#d4d5d7" stroke-width="7.5" opacity="0.56"/>
<path d="M959,434L891,466" stroke="#d4d5d7" stroke-width="6.6" opacity="0.52"/>
<path d="M860,544L829,592" stroke="#e6e7e8" stroke-width="6.8" opacity="0.46"/>
<path d="M488,403L458,436" stroke="#4d4f53" stroke-width="4.4" opacity="0.45"/>
<path d="M347,174L274,209" stroke="#e6e7e8" stroke-width="5.9" opacity="0.69"/>
<path d="M632,221L580,280" stroke="#f2f2f3" stroke-width="5.3" opacity="0.46"/>
<path d="M303,504L215,541" stroke="#3f4145" stroke-width="4.4" opacity="0.37"/>
<path d="M975,309L915,352" stroke="#d4d5d7" stroke-width="7.9" opacity="0.62"/>
<path d="M651,482L616,536" stroke="#e6e7e8" stroke-width="5.1" opacity="0.69"/>
<path d="M981,415L897,456" stroke="#4d4f53" stroke-width="8.0" opacity="0.56"/>
<path d="M786,195L746,223" stroke="#e6e7e8" stroke-width="7.1" opacity="0.47"/>
<path d="M545,222L510,251" stroke="#d4d5d7" stroke-width="4.1" opacity="0.48"/>
<path d="M825,267L777,325" stroke="#d4d5d7" stroke-width="7.5" opacity="0.41"/>
<path d="M423,923L343,964" stroke="#d4d5d7" stroke-width="4.6" opacity="0.57"/>
<path d="M766,737L716,775" stroke="#e6e7e8" stroke-width="5.7" opacity="0.39"/>
<path d="M323,969L285,1007" stroke="#f2f2f3" stroke-width="5.7" opacity="0.67"/>
<path d="M712,597L659,677" stroke="#d4d5d7" stroke-width="4.9" opacity="0.55"/>
<path d="M1023,676L990,722" stroke="#d4d5d7" stroke-width="7.0" opacity="0.37"/>
<path d="M644,369L606,390" stroke="#63656a" stroke-width="6.3" opacity="0.40"/>
<path d="M601,908L530,976" stroke="#3f4145" stroke-width="6.1" opacity="0.68"/>
<path d="M797,936L739,972" stroke="#f2f2f3" stroke-width="7.9" opacity="0.36"/>
<path d="M837,565L765,607" stroke="#e6e7e8" stroke-width="4.3" opacity="0.54"/>
<path d="M924,916L865,976" stroke="#f2f2f3" stroke-width="5.4" opacity="0.59"/>
<path d="M1065,892L1022,941" stroke="#4d4f53" stroke-width="6.3" opacity="0.57"/>
<path d="M619,649L547,676" stroke="#3f4145" stroke-width="4.5" opacity="0.44"/>
<path d="M648,437L580,505" stroke="#4d4f53" stroke-width="5.8" opacity="0.64"/>
<path d="M362,790L331,818" stroke="#4d4f53" stroke-width="4.1" opacity="0.69"/>
<path d="M387,815L323,863" stroke="#e6e7e8" stroke-width="5.5" opacity="0.40"/>
<path d="M816,595L743,639" stroke="#4d4f53" stroke-width="6.0" opacity="0.43"/>
<path d="M638,371L587,430" stroke="#d4d5d7" stroke-width="7.5" opacity="0.48"/>
<path d="M791,426L753,455" stroke="#e6e7e8" stroke-width="6.8" opacity="0.68"/>
<path d="M528,302L469,334" stroke="#d4d5d7" stroke-width="7.3" opacity="0.48"/>
<path d="M737,725L685,789" stroke="#63656a" stroke-width="5.8" opacity="0.38"/>
<path d="M317,893L287,924" stroke="#63656a" stroke-width="5.4" opacity="0.58"/>
<path d="M775,698L717,725" stroke="#f2f2f3" stroke-width="4.9" opacity="0.40"/>
<path d="M330,689L281,734" stroke="#3f4145" stroke-width="6.6" opacity="0.48"/>
<path d="M357,326L278,368" stroke="#3f4145" stroke-width="4.0" opacity="0.52"/>
<path d="M904,310L856,340" stroke="#3f4145" stroke-width="7.8" opacity="0.53"/>
<path d="M1147,294L1083,358" stroke="#d4d5d7" stroke-width="4.3" opacity="0.68"/>
<path d="M911,269L862,314" stroke="#e6e7e8" stroke-width="5.5" opacity="0.55"/>
<path d="M1046,829L968,886" stroke="#3f4145" stroke-width="7.9" opacity="0.38"/>
<path d="M1035,831L946,867" stroke="#d4d5d7" stroke-width="7.6" opacity="0.69"/>
<path d="M1131,611L1055,655" stroke="#3f4145" stroke-width="7.4" opacity="0.47"/>
<path d="M361,530L312,585" stroke="#4d4f53" stroke-width="7.7" opacity="0.43"/>
<path d="M1036,520L1003,547" stroke="#3f4145" stroke-width="7.2" opacity="0.40"/>
<path d="M418,594L365,659" stroke="#3f4145" stroke-width="5.8" opacity="0.66"/>
<path d="M788,739L718,788" stroke="#63656a" stroke-width="5.2" opacity="0.61"/>
<path d="M839,599L770,657" stroke="#f2f2f3" stroke-width="6.7" opacity="0.68"/>
<path d="M1038,672L985,695" stroke="#63656a" stroke-width="6.1" opacity="0.55"/>
<path d="M463,610L410,657" stroke="#e6e7e8" stroke-width="6.2" opacity="0.37"/>
<path d="M1079,617L987,654" stroke="#e6e7e8" stroke-width="6.8" opacity="0.37"/>
<path d="M753,508L696,587" stroke="#f2f2f3" stroke-width="5.0" opacity="0.52"/>
<path d="M582,917L526,995" stroke="#63656a" stroke-width="5.3" opacity="0.42"/>
<path d="M821,937L790,973" stroke="#e6e7e8" stroke-width="4.1" opacity="0.40"/>
<path d="M300,399L226,436" stroke="#4d4f53" stroke-width="4.4" opacity="0.61"/>
<path d="M396,589L346,612" stroke="#63656a" stroke-width="7.5" opacity="0.36"/>
<path d="M834,853L774,901" stroke="#3f4145" stroke-width="6.1" opacity="0.43"/>
<path d="M476,616L407,645" stroke="#3f4145" stroke-width="6.5" opacity="0.47"/>
<path d="M446,667L361,706" stroke="#d4d5d7" stroke-width="7.6" opacity="0.40"/>
<path d="M496,770L444,790" stroke="#4d4f53" stroke-width="6.2" opacity="0.60"/>
<path d="M463,688L380,719" stroke="#63656a" stroke-width="6.7" opacity="0.67"/>
<path d="M1123,257L1075,309" stroke="#63656a" stroke-width="8.0" opacity="0.64"/>
<path d="M980,565L953,596" stroke="#63656a" stroke-width="6.1" opacity="0.55"/>
<path d="M416,315L383,356" stroke="#f2f2f3" stroke-width="7.7" opacity="0.38"/>
<path d="M343,959L298,1009" stroke="#f2f2f3" stroke-width="5.6" opacity="0.50"/>
<path d="M595,336L549,379" stroke="#e6e7e8" stroke-width="7.4" opacity="0.41"/>
<path d="M680,781L622,808" stroke="#d4d5d7" stroke-width="4.4" opacity="0.63"/>
<path d="M568,231L513,303" stroke="#3f4145" stroke-width="7.8" opacity="0.55"/>
<path d="M454,651L414,696" stroke="#f2f2f3" stroke-width="7.6" opacity="0.61"/>
<path d="M959,844L920,896" stroke="#63656a" stroke-width="6.8" opacity="0.62"/>
<path d="M948,501L870,529" stroke="#f2f2f3" stroke-width="5.2" opacity="0.39"/>
<path d="M1054,992L965,1023" stroke="#f2f2f3" stroke-width="7.8" opacity="0.58"/>
<path d="M581,714L523,760" stroke="#4d4f53" stroke-width="6.1" opacity="0.52"/>
<path d="M473,260L425,302" stroke="#e6e7e8" stroke-width="6.5" opacity="0.61"/>
<path d="M511,497L472,516" stroke="#4d4f53" stroke-width="4.0" opacity="0.44"/>
<path d="M527,446L467,487" stroke="#63656a" stroke-width="6.3" opacity="0.70"/>
<path d="M839,840L805,869" stroke="#e6e7e8" stroke-width="5.5" opacity="0.68"/>
<path d="M622,975L551,1032" stroke="#63656a" stroke-width="4.2" opacity="0.68"/>
<path d="M652,602L587,643" stroke="#f2f2f3" stroke-width="5.9" opacity="0.44"/>
<path d="M1089,717L1009,744" stroke="#d4d5d7" stroke-width="6.3" opacity="0.57"/>
<path d="M642,735L604,756" stroke="#4d4f53" stroke-width="4.2" opacity="0.70"/>
<path d="M1102,222L1024,275" stroke="#4d4f53" stroke-width="5.0" opacity="0.61"/>
<path d="M329,243L277,314" stroke="#d4d5d7" stroke-width="7.9" opacity="0.64"/>
<path d="M809,257L746,302" stroke="#d4d5d7" stroke-width="7.4" opacity="0.47"/>
<path d="M423,465L383,492" stroke="#63656a" stroke-width="5.0" opacity="0.55"/>
<path d="M651,813L612,874" stroke="#f2f2f3" stroke-width="6.9" opacity="0.43"/>
<path d="M388,910L323,968" stroke="#f2f2f3" stroke-width="5.1" opacity="0.56"/>
</g>
<path d="M432,360 C420,280 450,200 520,190 C580,190 610,250 610,320 C560,350 490,370 432,360 Z" fill="#f6b5a6" stroke="#e39282" stroke-width="7"/>
<path d="M600,215 C680,180 780,200 850,250 M620,260 C700,220 800,240 880,300 M640,300 C720,270 790,290 830,330 M700,230 C760,260 800,250 840,215" stroke="#2f9a5c" stroke-width="9" fill="none" opacity="0.85"/>
<ellipse cx="740" cy="310" rx="70" ry="28" fill="none" stroke="#b9dcc4" stroke-width="8" opacity="0.8"/>
<path d="M300,360 C360,340 400,360 430,380 M295,420 C350,450 400,450 440,440 M320,300 C300,350 300,420 340,460" stroke="#e2343f" stroke-width="8" fill="none" opacity="0.9"/>
<circle cx="300" cy="628" r="14" fill="#d8202a"/>
<ellipse cx="838" cy="482" rx="50" ry="42" fill="#111"/><circle cx="822" cy="466" r="12" fill="#fff"/>
<path d="M1090,570 C1120,545 1160,550 1175,585 C1170,620 1145,640 1115,635 C1095,620 1085,595 1090,570 Z" fill="#ee9c88"/>
<path d="M1110,500 L1240,430 M1115,520 L1250,480 M1125,540 L1230,530" stroke="#e8ecee" stroke-width="4" fill="none" opacity="0.9"/>
<path d="M350,975 C400,955 450,970 470,1000 C465,1030 460,1050 455,1060 C420,1030 380,1010 350,975 Z" fill="#e4705c"/><circle cx="435" cy="1075" r="22" fill="#e88a74"/>
<path d="M615,835 L850,792 L652,1002 L626,975 Z" fill="#7b7d81"/>
<path d="M615,835 L850,792 L760,890 L620,900 Z" fill="#55575b" opacity="0.6"/>
<path d="M440,378 C480,350 540,335 600,332 L612,560 L628,972 L650,1000 L845,792 L905,772 L948,800 L640,1160 C610,1178 580,1178 558,1168 L486,1082 L466,700 Z" fill="url(#magR)"/>
<path d="M440,378 L520,352 L540,1130 L558,1168 L486,1082 L466,700 Z" fill="#d9741f"/>
<path d="M520,352 L600,332 L612,560 L628,972 L650,1000 L640,1040 L560,1150 L540,1130 Z" fill="#ee8237"/>
<path d="M628,972 L845,792 L905,772 L948,800 L640,1160 C610,1178 580,1178 558,1168 L540,1130 L640,1040 Z" fill="#ea7a30"/>
<path d="M650,1000 L845,792 L880,800 L660,1030 Z" fill="#b95a1c" opacity="0.8"/>
<path d="M440,378 L520,352 L524,600 L462,590 Z" fill="#c9962a"/>
<path d="M520,352 L600,332 L608,560 L524,600 Z" fill="#cfc4ae"/>
<path d="M520,352 L524,600" stroke="#7a5a18" stroke-width="8"/>
<path d="M520,600 L540,1130" stroke="#a9501a" stroke-width="9"/>
</g>
<text x="20.7" y="1431.6" font-size="46.5" font-weight="bold" fill="#3040a0">(</text>
<text x="71.1" y="1431.6" font-size="46.5" font-weight="bold" fill="#3040a0">)</text>
<text x="53.7" y="1433.3" font-size="38.1" fill="#3040a0" text-anchor="middle" font-family="'DejaVu Sans',sans-serif">♦</text>
<text x="113.8" y="1431.0" font-size="33.1" fill="#111111" text-anchor="start">Evaluation techniques</text>
<text x="1009.4" y="1470" font-size="23.53" fill="#3c3c3b" stroke="#3c3c3b" stroke-width="0.2" text-anchor="middle" xml:space="preserve"><tspan font-weight="bold">IRM</tspan> [37-39,41-45,47-54,56-58]; <tspan font-weight="bold">Fluorscence </tspan><tspan font-weight="bold" font-style="italic">in vivo</tspan> [37,38,40,54]; <tspan font-weight="bold">ESR Spectrocopy</tspan> [39,41-43,47,48,51,53,56-58]; <tspan font-weight="bold">TEM</tspan> [39,43,49,50,54,58,59]; <tspan font-weight="bold">ICP-mass</tspan> [44]; <tspan font-weight="bold">ICP-OES</tspan> [37,50,53-55];</text>
<text x="1009.9" y="1496.8" font-size="23.42" fill="#3c3c3b" stroke="#3c3c3b" stroke-width="0.2" text-anchor="middle" xml:space="preserve"><tspan font-weight="bold">TUNEL</tspan> [38]; <tspan font-weight="bold">EB</tspan> [37,44,54]; <tspan font-weight="bold">Immunohistochemistry</tspan> [50]; <tspan font-weight="bold">FUS</tspan> [37,44,50,54]; <tspan font-weight="bold">Fluormetric method</tspan> [44]; <tspan font-weight="bold">Intravital microscope</tspan> [46]; <tspan font-weight="bold">PB</tspan> [37,38,48-50,54,55]; <tspan font-weight="bold">Fast Red</tspan> [48,54,55];</text>
<text x="1009.6" y="1523.6" font-size="23.45" fill="#3c3c3b" stroke="#3c3c3b" stroke-width="0.2" text-anchor="middle" xml:space="preserve"><tspan font-weight="bold">DAPI</tspan> [54]; <tspan font-weight="bold">EFTEM</tspan> [39]; <tspan font-weight="bold">Confocal fluorescence</tspan> [39,54]; HPLC [37]; <tspan font-weight="bold">HE</tspan> [38,44,49,50,55]</text>
</svg></body></html>
